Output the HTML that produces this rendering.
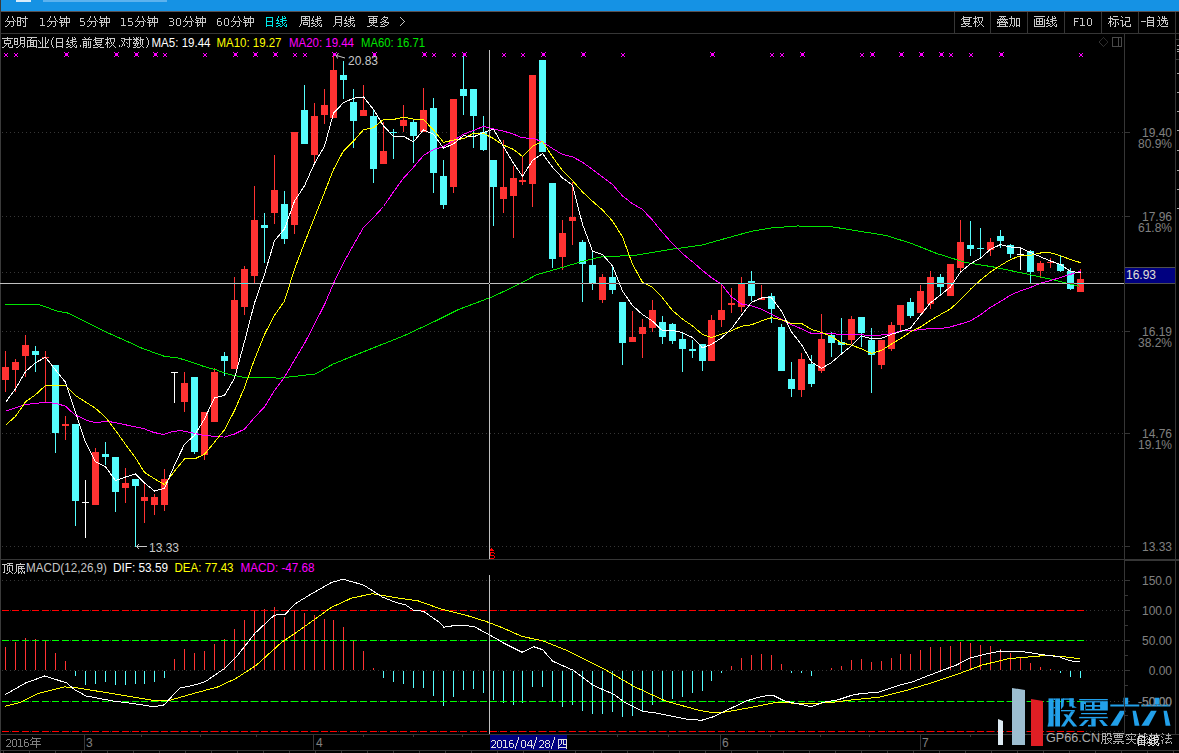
<!DOCTYPE html>
<html><head><meta charset="utf-8"><style>
html,body{margin:0;padding:0;background:#000;width:1179px;height:753px;overflow:hidden}
svg{position:absolute;left:0;top:0;display:block}
</style></head><body>
<svg width="1179" height="753" viewBox="0 0 1179 753">
<rect width="1179" height="753" fill="#000"/>
<g shape-rendering="crispEdges">
<rect x="0" y="0" width="1179" height="11" fill="#1592e4"/>
<rect x="16" y="0" width="15" height="2" fill="#d8ecfa"/>
<rect x="43" y="0" width="124" height="2" fill="#5cb2ee"/>
<rect x="0" y="11" width="1179" height="1" fill="#5a5050"/>
<rect x="0" y="0" width="1" height="753" fill="#3a3a3a"/>
<rect x="0" y="33" width="1179" height="1" fill="#363636"/>
<rect x="954" y="12" width="1" height="21" fill="#363636"/>
<rect x="990" y="12" width="1" height="21" fill="#363636"/>
<rect x="1027" y="12" width="1" height="21" fill="#363636"/>
<rect x="1064" y="12" width="1" height="21" fill="#363636"/>
<rect x="1101" y="12" width="1" height="21" fill="#363636"/>
<rect x="1138" y="12" width="1" height="21" fill="#363636"/>
<rect x="1175" y="12" width="1" height="21" fill="#363636"/>
<line x1="2" y1="132.5" x2="1124" y2="132.5" stroke="#363636" stroke-width="1" stroke-dasharray="1,3"/>
<line x1="2" y1="216.5" x2="1124" y2="216.5" stroke="#363636" stroke-width="1" stroke-dasharray="1,3"/>
<line x1="2" y1="272.5" x2="1124" y2="272.5" stroke="#363636" stroke-width="1" stroke-dasharray="1,3"/>
<line x1="2" y1="331.5" x2="1124" y2="331.5" stroke="#363636" stroke-width="1" stroke-dasharray="1,3"/>
<line x1="2" y1="433.5" x2="1124" y2="433.5" stroke="#363636" stroke-width="1" stroke-dasharray="1,3"/>
<line x1="2" y1="546.5" x2="1124" y2="546.5" stroke="#363636" stroke-width="1" stroke-dasharray="1,3"/>
<rect x="1124" y="34" width="1" height="701" fill="#363636"/>
<rect x="1175" y="34" width="1" height="701" fill="#363636"/>
<rect x="1125" y="132" width="5" height="1" fill="#363636"/>
<rect x="1125" y="216" width="5" height="1" fill="#363636"/>
<rect x="1125" y="272" width="5" height="1" fill="#363636"/>
<rect x="1125" y="331" width="5" height="1" fill="#363636"/>
<rect x="1125" y="433" width="5" height="1" fill="#363636"/>
<rect x="1125" y="546" width="5" height="1" fill="#363636"/>
<rect x="0" y="559" width="1124" height="1" fill="#363636"/>
<rect x="1124" y="559" width="55" height="2" fill="#363636"/>
<rect x="5" y="351" width="1" height="41" fill="#ff3232"/>
<rect x="2" y="367" width="7" height="13" fill="#ff3232"/>
<rect x="15" y="359" width="1" height="33" fill="#ff3232"/>
<rect x="12" y="362" width="7" height="8" fill="#ff3232"/>
<rect x="25" y="335" width="1" height="42" fill="#ff3232"/>
<rect x="22" y="345" width="7" height="11" fill="#ff3232"/>
<rect x="35" y="346" width="1" height="26" fill="#54fcfc"/>
<rect x="32" y="351" width="7" height="4" fill="#54fcfc"/>
<rect x="45" y="351" width="1" height="51" fill="#ff3232"/>
<rect x="42" y="357" width="7" height="1" fill="#ff3232"/>
<rect x="55" y="365" width="1" height="88" fill="#54fcfc"/>
<rect x="52" y="365" width="7" height="68" fill="#54fcfc"/>
<rect x="65" y="416" width="1" height="24" fill="#ff3232"/>
<rect x="62" y="424" width="7" height="2" fill="#ff3232"/>
<rect x="75" y="424" width="1" height="102" fill="#54fcfc"/>
<rect x="72" y="424" width="7" height="77" fill="#54fcfc"/>
<rect x="85" y="480" width="1" height="58" fill="#ffffff"/>
<rect x="82" y="502" width="7" height="1" fill="#ffffff"/>
<rect x="95" y="448" width="1" height="57" fill="#ff3232"/>
<rect x="92" y="452" width="7" height="53" fill="#ff3232"/>
<rect x="105" y="442" width="1" height="23" fill="#54fcfc"/>
<rect x="102" y="454" width="7" height="3" fill="#54fcfc"/>
<rect x="115" y="457" width="1" height="55" fill="#54fcfc"/>
<rect x="112" y="457" width="7" height="35" fill="#54fcfc"/>
<rect x="125" y="468" width="1" height="35" fill="#ff3232"/>
<rect x="122" y="483" width="7" height="5" fill="#ff3232"/>
<rect x="135" y="479" width="1" height="68" fill="#54fcfc"/>
<rect x="132" y="479" width="7" height="7" fill="#54fcfc"/>
<rect x="144" y="484" width="1" height="39" fill="#ff3232"/>
<rect x="141" y="497" width="7" height="4" fill="#ff3232"/>
<rect x="154" y="494" width="1" height="21" fill="#ff3232"/>
<rect x="151" y="497" width="7" height="8" fill="#ff3232"/>
<rect x="164" y="469" width="1" height="42" fill="#ff3232"/>
<rect x="161" y="479" width="7" height="26" fill="#ff3232"/>
<rect x="174" y="372" width="1" height="31" fill="#ffffff"/>
<rect x="171" y="372" width="7" height="1" fill="#ffffff"/>
<rect x="184" y="372" width="1" height="40" fill="#ff3232"/>
<rect x="181" y="383" width="7" height="19" fill="#ff3232"/>
<rect x="194" y="377" width="1" height="77" fill="#54fcfc"/>
<rect x="191" y="377" width="7" height="75" fill="#54fcfc"/>
<rect x="204" y="412" width="1" height="48" fill="#ff3232"/>
<rect x="201" y="412" width="7" height="43" fill="#ff3232"/>
<rect x="214" y="368" width="1" height="54" fill="#ff3232"/>
<rect x="211" y="372" width="7" height="50" fill="#ff3232"/>
<rect x="224" y="352" width="1" height="24" fill="#54fcfc"/>
<rect x="221" y="356" width="7" height="5" fill="#54fcfc"/>
<rect x="234" y="277" width="1" height="92" fill="#ff3232"/>
<rect x="231" y="300" width="7" height="69" fill="#ff3232"/>
<rect x="244" y="266" width="1" height="49" fill="#ff3232"/>
<rect x="241" y="269" width="7" height="38" fill="#ff3232"/>
<rect x="254" y="186" width="1" height="97" fill="#ff3232"/>
<rect x="251" y="220" width="7" height="56" fill="#ff3232"/>
<rect x="264" y="213" width="1" height="50" fill="#54fcfc"/>
<rect x="261" y="225" width="7" height="3" fill="#54fcfc"/>
<rect x="274" y="155" width="1" height="69" fill="#ff3232"/>
<rect x="271" y="190" width="7" height="23" fill="#ff3232"/>
<rect x="284" y="191" width="1" height="53" fill="#54fcfc"/>
<rect x="281" y="204" width="7" height="35" fill="#54fcfc"/>
<rect x="294" y="132" width="1" height="102" fill="#ff3232"/>
<rect x="291" y="132" width="7" height="93" fill="#ff3232"/>
<rect x="304" y="85" width="1" height="59" fill="#54fcfc"/>
<rect x="301" y="110" width="7" height="34" fill="#54fcfc"/>
<rect x="314" y="103" width="1" height="61" fill="#ff3232"/>
<rect x="311" y="116" width="7" height="39" fill="#ff3232"/>
<rect x="324" y="89" width="1" height="35" fill="#ff3232"/>
<rect x="321" y="105" width="7" height="10" fill="#ff3232"/>
<rect x="333" y="54" width="1" height="64" fill="#ff3232"/>
<rect x="330" y="70" width="7" height="48" fill="#ff3232"/>
<rect x="343" y="61" width="1" height="38" fill="#54fcfc"/>
<rect x="340" y="75" width="7" height="5" fill="#54fcfc"/>
<rect x="353" y="89" width="1" height="59" fill="#54fcfc"/>
<rect x="350" y="102" width="7" height="19" fill="#54fcfc"/>
<rect x="363" y="85" width="1" height="31" fill="#ff3232"/>
<rect x="360" y="110" width="7" height="6" fill="#ff3232"/>
<rect x="373" y="110" width="1" height="73" fill="#54fcfc"/>
<rect x="370" y="116" width="7" height="53" fill="#54fcfc"/>
<rect x="383" y="122" width="1" height="42" fill="#ff3232"/>
<rect x="380" y="151" width="7" height="13" fill="#ff3232"/>
<rect x="393" y="129" width="1" height="30" fill="#54fcfc"/>
<rect x="390" y="132" width="7" height="1" fill="#54fcfc"/>
<rect x="403" y="105" width="1" height="27" fill="#ff3232"/>
<rect x="400" y="120" width="7" height="6" fill="#ff3232"/>
<rect x="413" y="120" width="1" height="43" fill="#54fcfc"/>
<rect x="410" y="122" width="7" height="14" fill="#54fcfc"/>
<rect x="423" y="88" width="1" height="44" fill="#ff3232"/>
<rect x="420" y="110" width="7" height="22" fill="#ff3232"/>
<rect x="433" y="98" width="1" height="95" fill="#54fcfc"/>
<rect x="430" y="108" width="7" height="65" fill="#54fcfc"/>
<rect x="443" y="160" width="1" height="49" fill="#54fcfc"/>
<rect x="440" y="176" width="7" height="29" fill="#54fcfc"/>
<rect x="453" y="99" width="1" height="94" fill="#ff3232"/>
<rect x="450" y="99" width="7" height="88" fill="#ff3232"/>
<rect x="463" y="54" width="1" height="61" fill="#54fcfc"/>
<rect x="460" y="89" width="7" height="7" fill="#54fcfc"/>
<rect x="473" y="89" width="1" height="59" fill="#54fcfc"/>
<rect x="470" y="89" width="7" height="27" fill="#54fcfc"/>
<rect x="483" y="116" width="1" height="35" fill="#54fcfc"/>
<rect x="480" y="132" width="7" height="18" fill="#54fcfc"/>
<rect x="493" y="160" width="1" height="66" fill="#54fcfc"/>
<rect x="490" y="160" width="7" height="27" fill="#54fcfc"/>
<rect x="503" y="140" width="1" height="73" fill="#ff3232"/>
<rect x="500" y="187" width="7" height="12" fill="#ff3232"/>
<rect x="513" y="166" width="1" height="72" fill="#ff3232"/>
<rect x="510" y="178" width="7" height="18" fill="#ff3232"/>
<rect x="522" y="156" width="1" height="29" fill="#ff3232"/>
<rect x="519" y="180" width="7" height="2" fill="#ff3232"/>
<rect x="532" y="75" width="1" height="132" fill="#ff3232"/>
<rect x="529" y="75" width="7" height="109" fill="#ff3232"/>
<rect x="542" y="60" width="1" height="92" fill="#54fcfc"/>
<rect x="539" y="60" width="7" height="92" fill="#54fcfc"/>
<rect x="552" y="183" width="1" height="85" fill="#54fcfc"/>
<rect x="549" y="183" width="7" height="76" fill="#54fcfc"/>
<rect x="562" y="220" width="1" height="50" fill="#ff3232"/>
<rect x="559" y="233" width="7" height="24" fill="#ff3232"/>
<rect x="572" y="182" width="1" height="63" fill="#ff3232"/>
<rect x="569" y="217" width="7" height="4" fill="#ff3232"/>
<rect x="582" y="240" width="1" height="62" fill="#54fcfc"/>
<rect x="579" y="242" width="7" height="22" fill="#54fcfc"/>
<rect x="592" y="251" width="1" height="39" fill="#54fcfc"/>
<rect x="589" y="265" width="7" height="18" fill="#54fcfc"/>
<rect x="602" y="274" width="1" height="29" fill="#ff3232"/>
<rect x="599" y="277" width="7" height="23" fill="#ff3232"/>
<rect x="612" y="267" width="1" height="27" fill="#54fcfc"/>
<rect x="609" y="277" width="7" height="13" fill="#54fcfc"/>
<rect x="622" y="302" width="1" height="63" fill="#54fcfc"/>
<rect x="619" y="302" width="7" height="41" fill="#54fcfc"/>
<rect x="632" y="311" width="1" height="31" fill="#ff3232"/>
<rect x="629" y="337" width="7" height="5" fill="#ff3232"/>
<rect x="642" y="319" width="1" height="39" fill="#ff3232"/>
<rect x="639" y="327" width="7" height="7" fill="#ff3232"/>
<rect x="652" y="300" width="1" height="32" fill="#ff3232"/>
<rect x="649" y="310" width="7" height="18" fill="#ff3232"/>
<rect x="662" y="316" width="1" height="28" fill="#54fcfc"/>
<rect x="659" y="322" width="7" height="15" fill="#54fcfc"/>
<rect x="672" y="323" width="1" height="21" fill="#54fcfc"/>
<rect x="669" y="324" width="7" height="17" fill="#54fcfc"/>
<rect x="682" y="333" width="1" height="39" fill="#54fcfc"/>
<rect x="679" y="339" width="7" height="10" fill="#54fcfc"/>
<rect x="692" y="340" width="1" height="18" fill="#54fcfc"/>
<rect x="689" y="349" width="7" height="2" fill="#54fcfc"/>
<rect x="702" y="344" width="1" height="27" fill="#54fcfc"/>
<rect x="699" y="344" width="7" height="17" fill="#54fcfc"/>
<rect x="711" y="315" width="1" height="46" fill="#ff3232"/>
<rect x="708" y="320" width="7" height="41" fill="#ff3232"/>
<rect x="721" y="283" width="1" height="44" fill="#ff3232"/>
<rect x="718" y="310" width="7" height="10" fill="#ff3232"/>
<rect x="731" y="288" width="1" height="25" fill="#ff3232"/>
<rect x="728" y="303" width="7" height="2" fill="#ff3232"/>
<rect x="741" y="277" width="1" height="35" fill="#ff3232"/>
<rect x="738" y="283" width="7" height="24" fill="#ff3232"/>
<rect x="751" y="271" width="1" height="30" fill="#54fcfc"/>
<rect x="748" y="281" width="7" height="15" fill="#54fcfc"/>
<rect x="761" y="285" width="1" height="15" fill="#ff3232"/>
<rect x="758" y="298" width="7" height="2" fill="#ff3232"/>
<rect x="771" y="293" width="1" height="30" fill="#54fcfc"/>
<rect x="768" y="296" width="7" height="13" fill="#54fcfc"/>
<rect x="781" y="324" width="1" height="47" fill="#54fcfc"/>
<rect x="778" y="327" width="7" height="44" fill="#54fcfc"/>
<rect x="791" y="362" width="1" height="35" fill="#54fcfc"/>
<rect x="788" y="379" width="7" height="10" fill="#54fcfc"/>
<rect x="801" y="353" width="1" height="44" fill="#ff3232"/>
<rect x="798" y="359" width="7" height="31" fill="#ff3232"/>
<rect x="811" y="355" width="1" height="32" fill="#54fcfc"/>
<rect x="808" y="364" width="7" height="20" fill="#54fcfc"/>
<rect x="821" y="314" width="1" height="59" fill="#ff3232"/>
<rect x="818" y="339" width="7" height="32" fill="#ff3232"/>
<rect x="831" y="332" width="1" height="25" fill="#54fcfc"/>
<rect x="828" y="335" width="7" height="8" fill="#54fcfc"/>
<rect x="841" y="318" width="1" height="35" fill="#54fcfc"/>
<rect x="838" y="342" width="7" height="3" fill="#54fcfc"/>
<rect x="851" y="316" width="1" height="28" fill="#ff3232"/>
<rect x="848" y="319" width="7" height="21" fill="#ff3232"/>
<rect x="861" y="317" width="1" height="30" fill="#54fcfc"/>
<rect x="858" y="317" width="7" height="16" fill="#54fcfc"/>
<rect x="871" y="328" width="1" height="65" fill="#54fcfc"/>
<rect x="868" y="340" width="7" height="15" fill="#54fcfc"/>
<rect x="881" y="340" width="1" height="29" fill="#ff3232"/>
<rect x="878" y="340" width="7" height="25" fill="#ff3232"/>
<rect x="891" y="322" width="1" height="29" fill="#ff3232"/>
<rect x="888" y="325" width="7" height="24" fill="#ff3232"/>
<rect x="900" y="305" width="1" height="26" fill="#ff3232"/>
<rect x="897" y="305" width="7" height="20" fill="#ff3232"/>
<rect x="910" y="298" width="1" height="20" fill="#54fcfc"/>
<rect x="907" y="302" width="7" height="14" fill="#54fcfc"/>
<rect x="920" y="285" width="1" height="28" fill="#ff3232"/>
<rect x="917" y="291" width="7" height="22" fill="#ff3232"/>
<rect x="930" y="271" width="1" height="38" fill="#ff3232"/>
<rect x="927" y="277" width="7" height="27" fill="#ff3232"/>
<rect x="940" y="274" width="1" height="21" fill="#54fcfc"/>
<rect x="937" y="277" width="7" height="10" fill="#54fcfc"/>
<rect x="950" y="264" width="1" height="32" fill="#ff3232"/>
<rect x="947" y="264" width="7" height="32" fill="#ff3232"/>
<rect x="960" y="220" width="1" height="52" fill="#ff3232"/>
<rect x="957" y="242" width="7" height="26" fill="#ff3232"/>
<rect x="970" y="221" width="1" height="35" fill="#54fcfc"/>
<rect x="967" y="245" width="7" height="4" fill="#54fcfc"/>
<rect x="980" y="228" width="1" height="30" fill="#54fcfc"/>
<rect x="977" y="248" width="7" height="1" fill="#54fcfc"/>
<rect x="990" y="238" width="1" height="18" fill="#ff3232"/>
<rect x="987" y="242" width="7" height="8" fill="#ff3232"/>
<rect x="1000" y="230" width="1" height="18" fill="#54fcfc"/>
<rect x="997" y="236" width="7" height="5" fill="#54fcfc"/>
<rect x="1010" y="244" width="1" height="14" fill="#54fcfc"/>
<rect x="1007" y="245" width="7" height="9" fill="#54fcfc"/>
<rect x="1020" y="247" width="1" height="23" fill="#ffffff"/>
<rect x="1017" y="254" width="7" height="1" fill="#ffffff"/>
<rect x="1030" y="250" width="1" height="33" fill="#54fcfc"/>
<rect x="1027" y="251" width="7" height="21" fill="#54fcfc"/>
<rect x="1040" y="261" width="1" height="17" fill="#ff3232"/>
<rect x="1037" y="263" width="7" height="8" fill="#ff3232"/>
<rect x="1050" y="258" width="1" height="10" fill="#ff3232"/>
<rect x="1047" y="262" width="7" height="1" fill="#ff3232"/>
<rect x="1060" y="256" width="1" height="16" fill="#54fcfc"/>
<rect x="1057" y="264" width="7" height="7" fill="#54fcfc"/>
<rect x="1070" y="268" width="1" height="22" fill="#54fcfc"/>
<rect x="1067" y="271" width="7" height="18" fill="#54fcfc"/>
<rect x="1080" y="269" width="1" height="23" fill="#ff3232"/>
<rect x="1077" y="279" width="7" height="13" fill="#ff3232"/>
<polyline points="5.1,304.5 37.7,304.5 44.5,306.3 56.0,310.9 67.4,312.9 76.3,317.3 89.0,323.6 101.8,330.0 114.5,335.8 127.2,341.4 142.5,348.5 152.7,352.1 164.1,356.2 178.1,358.0 190.8,361.8 203.6,366.4 216.3,369.9 229.0,374.5 241.7,377.0 254.5,377.6 267.2,377.8 280.0,378.1 315.6,373.9 333.4,363.9 369.1,349.6 404.7,335.4 436.8,320.4 458.1,309.7 493.8,296.2 522.2,282.6 536.5,274.8 561.4,267.7 582.8,261.3 600.6,257.0 636.2,255.2 671.9,249.2 701.4,245.2 722.8,239.2 751.3,231.3 772.6,227.8 797.6,226.0 829.6,226.4 858.1,231.0 886.6,235.6 911.6,243.5 936.5,253.4 965.0,262.3 993.5,267.0 1022.0,273.0 1050.5,279.1 1079.0,286.2" fill="none" stroke="#00e600" stroke-width="1"/>
<polyline points="5.5,411.2 15.5,407.7 25.6,404.6 35.4,403.4 45.4,402.2 55.3,403.4 65.3,406.0 75.5,415.5 77.3,415.9 87.6,420.7 94.5,422.5 108.4,421.4 120.4,423.7 132.5,426.3 142.9,428.3 153.3,432.3 163.6,434.6 172.3,431.5 180.9,430.6 194.5,433.3 204.5,435.7 214.5,436.2 224.5,437.1 234.5,434.0 244.5,429.1 254.5,417.5 264.5,406.9 274.5,390.5 284.5,377.2 294.5,359.9 304.5,343.5 314.5,324.1 324.5,304.7 333.5,283.5 343.5,262.8 353.5,244.9 363.5,227.3 373.5,217.5 383.5,206.5 393.5,191.8 403.5,178.2 413.5,167.2 423.5,155.4 433.5,149.5 443.5,146.6 453.5,140.6 463.5,134.2 473.5,130.5 483.5,126.3 493.5,129.0 503.5,131.1 513.5,134.2 522.5,137.9 532.5,138.2 542.5,141.8 552.5,148.5 562.5,154.5 572.5,156.8 582.5,162.2 592.5,169.5 602.5,177.1 612.5,184.6 622.5,195.9 632.5,203.7 642.5,209.5 652.5,220.2 662.5,232.4 672.5,243.7 682.5,253.7 692.5,261.8 702.5,270.5 711.5,277.7 721.5,284.4 731.5,297.0 741.5,304.0 751.5,305.9 761.5,309.3 771.5,314.1 781.5,319.5 791.5,324.7 801.5,328.8 811.5,333.5 821.5,333.3 831.5,333.6 841.5,334.5 851.5,335.0 861.5,334.8 871.5,335.5 881.5,335.0 891.5,333.7 900.5,330.9 910.5,330.7 920.5,329.7 930.5,328.4 940.5,328.6 950.5,326.9 960.5,324.0 970.5,320.9 980.5,314.7 990.5,307.4 1000.5,301.5 1010.5,295.1 1020.5,290.8 1030.5,287.4 1040.5,283.3 1050.5,280.5 1060.5,277.5 1070.5,274.3 1080.5,271.3" fill="none" stroke="#ff00ff" stroke-width="1"/>
<polyline points="5.5,425.3 15.5,416.4 25.6,401.7 35.4,394.8 45.4,385.6 55.3,386.0 65.3,385.3 75.5,395.6 95.5,408.3 105.5,417.3 115.5,430.3 125.5,444.4 135.5,457.9 144.5,472.4 154.5,478.8 164.5,484.5 174.5,471.1 184.5,458.9 194.5,458.9 204.5,454.3 214.5,442.1 224.5,429.8 234.5,410.7 244.5,387.5 254.5,359.4 264.5,334.4 274.5,315.4 284.5,301.0 294.5,269.1 304.5,242.8 314.5,217.5 324.5,192.4 333.5,169.5 343.5,150.8 353.5,141.1 363.5,129.7 373.5,127.7 383.5,119.4 393.5,119.5 403.5,117.1 413.5,119.1 423.5,119.6 433.5,130.0 443.5,142.4 453.5,140.1 463.5,138.7 473.5,133.4 483.5,133.3 493.5,138.6 503.5,145.2 513.5,149.4 522.5,156.5 532.5,146.4 542.5,141.3 552.5,156.9 562.5,170.6 572.5,180.7 582.5,191.9 592.5,201.2 602.5,210.0 612.5,221.0 622.5,236.9 632.5,264.2 642.5,282.3 652.5,287.4 662.5,297.8 672.5,310.5 682.5,319.1 692.5,325.9 702.5,334.4 711.5,337.5 721.5,334.2 731.5,330.7 741.5,326.2 751.5,324.8 761.5,320.9 771.5,317.7 781.5,319.8 791.5,323.5 801.5,323.3 811.5,329.5 821.5,332.4 831.5,336.5 841.5,342.8 851.5,345.2 861.5,348.8 871.5,353.5 881.5,350.4 891.5,344.1 900.5,338.6 910.5,331.9 920.5,327.0 930.5,320.4 940.5,314.5 950.5,308.9 960.5,299.7 970.5,289.2 980.5,280.1 990.5,271.9 1000.5,265.5 1010.5,259.5 1020.5,255.8 1030.5,255.3 1040.5,253.0 1050.5,252.8 1060.5,255.7 1070.5,259.6 1080.5,262.6" fill="none" stroke="#ffff00" stroke-width="1"/>
<polyline points="5.5,402.5 15.5,388.7 25.6,371.5 35.4,362.8 45.5,357.2 55.5,369.9 65.5,382.2 75.5,412.7 85.5,442.1 95.5,461.9 105.5,466.8 115.5,480.6 125.5,477.0 135.5,473.9 144.5,482.9 154.5,491.0 164.5,488.4 174.5,465.2 184.5,444.2 194.5,435.4 204.5,418.9 214.5,397.8 224.5,395.5 234.5,378.2 244.5,341.6 254.5,302.9 264.5,274.4 274.5,240.7 284.5,228.9 294.5,201.1 304.5,185.8 314.5,163.3 324.5,146.2 333.5,113.1 343.5,102.7 353.5,98.2 363.5,97.0 373.5,109.5 383.5,125.8 393.5,136.6 403.5,136.4 413.5,141.7 423.5,129.9 433.5,134.2 443.5,148.2 453.5,143.9 463.5,135.7 473.5,136.9 483.5,132.5 493.5,129.1 503.5,146.6 513.5,163.3 522.5,176.3 532.5,160.5 542.5,153.6 552.5,167.2 562.5,177.9 572.5,185.2 582.5,224.3 592.5,251.0 602.5,254.5 612.5,265.9 622.5,291.1 632.5,305.6 642.5,314.5 652.5,321.2 662.5,330.7 672.5,330.3 682.5,332.7 692.5,337.5 702.5,347.8 711.5,344.3 721.5,338.0 731.5,328.8 741.5,315.1 751.5,302.3 761.5,298.0 771.5,297.8 781.5,311.0 791.5,331.9 801.5,344.6 811.5,362.0 821.5,368.3 831.5,362.6 841.5,353.9 851.5,345.8 861.5,335.8 871.5,338.9 881.5,338.3 891.5,334.3 900.5,331.5 910.5,328.1 920.5,315.3 930.5,302.7 940.5,295.1 950.5,286.9 960.5,272.1 970.5,263.7 980.5,258.1 990.5,249.2 1000.5,244.6 1010.5,247.0 1020.5,248.0 1030.5,252.5 1040.5,256.8 1050.5,261.0 1060.5,264.4 1070.5,271.4 1080.5,272.8" fill="none" stroke="#ffffff" stroke-width="1"/>
<rect x="5" y="54" width="2" height="2" fill="#ff00ff"/>
<rect x="4" y="53" width="1" height="1" fill="#ff00ff"/>
<rect x="7" y="53" width="1" height="1" fill="#ff00ff"/>
<rect x="4" y="56" width="1" height="1" fill="#ff00ff"/>
<rect x="7" y="56" width="1" height="1" fill="#ff00ff"/>
<rect x="15" y="54" width="2" height="2" fill="#ff00ff"/>
<rect x="14" y="53" width="1" height="1" fill="#ff00ff"/>
<rect x="17" y="53" width="1" height="1" fill="#ff00ff"/>
<rect x="14" y="56" width="1" height="1" fill="#ff00ff"/>
<rect x="17" y="56" width="1" height="1" fill="#ff00ff"/>
<rect x="65" y="53" width="3" height="3" fill="#ff00ff"/>
<rect x="64" y="52" width="1" height="1" fill="#ff00ff"/>
<rect x="68" y="52" width="1" height="1" fill="#ff00ff"/>
<rect x="64" y="56" width="1" height="1" fill="#ff00ff"/>
<rect x="68" y="56" width="1" height="1" fill="#ff00ff"/>
<rect x="115" y="53" width="3" height="3" fill="#ff00ff"/>
<rect x="114" y="52" width="1" height="1" fill="#ff00ff"/>
<rect x="118" y="52" width="1" height="1" fill="#ff00ff"/>
<rect x="114" y="56" width="1" height="1" fill="#ff00ff"/>
<rect x="118" y="56" width="1" height="1" fill="#ff00ff"/>
<rect x="135" y="53" width="3" height="3" fill="#ff00ff"/>
<rect x="134" y="52" width="1" height="1" fill="#ff00ff"/>
<rect x="138" y="52" width="1" height="1" fill="#ff00ff"/>
<rect x="134" y="56" width="1" height="1" fill="#ff00ff"/>
<rect x="138" y="56" width="1" height="1" fill="#ff00ff"/>
<rect x="154" y="53" width="3" height="3" fill="#ff00ff"/>
<rect x="153" y="52" width="1" height="1" fill="#ff00ff"/>
<rect x="157" y="52" width="1" height="1" fill="#ff00ff"/>
<rect x="153" y="56" width="1" height="1" fill="#ff00ff"/>
<rect x="157" y="56" width="1" height="1" fill="#ff00ff"/>
<rect x="164" y="54" width="2" height="2" fill="#ff00ff"/>
<rect x="163" y="53" width="1" height="1" fill="#ff00ff"/>
<rect x="166" y="53" width="1" height="1" fill="#ff00ff"/>
<rect x="163" y="56" width="1" height="1" fill="#ff00ff"/>
<rect x="166" y="56" width="1" height="1" fill="#ff00ff"/>
<rect x="204" y="54" width="2" height="2" fill="#ff00ff"/>
<rect x="203" y="53" width="1" height="1" fill="#ff00ff"/>
<rect x="206" y="53" width="1" height="1" fill="#ff00ff"/>
<rect x="203" y="56" width="1" height="1" fill="#ff00ff"/>
<rect x="206" y="56" width="1" height="1" fill="#ff00ff"/>
<rect x="234" y="53" width="3" height="3" fill="#ff00ff"/>
<rect x="233" y="52" width="1" height="1" fill="#ff00ff"/>
<rect x="237" y="52" width="1" height="1" fill="#ff00ff"/>
<rect x="233" y="56" width="1" height="1" fill="#ff00ff"/>
<rect x="237" y="56" width="1" height="1" fill="#ff00ff"/>
<rect x="254" y="53" width="3" height="3" fill="#ff00ff"/>
<rect x="253" y="52" width="1" height="1" fill="#ff00ff"/>
<rect x="257" y="52" width="1" height="1" fill="#ff00ff"/>
<rect x="253" y="56" width="1" height="1" fill="#ff00ff"/>
<rect x="257" y="56" width="1" height="1" fill="#ff00ff"/>
<rect x="274" y="53" width="3" height="3" fill="#ff00ff"/>
<rect x="273" y="52" width="1" height="1" fill="#ff00ff"/>
<rect x="277" y="52" width="1" height="1" fill="#ff00ff"/>
<rect x="273" y="56" width="1" height="1" fill="#ff00ff"/>
<rect x="277" y="56" width="1" height="1" fill="#ff00ff"/>
<rect x="294" y="54" width="2" height="2" fill="#ff00ff"/>
<rect x="293" y="53" width="1" height="1" fill="#ff00ff"/>
<rect x="296" y="53" width="1" height="1" fill="#ff00ff"/>
<rect x="293" y="56" width="1" height="1" fill="#ff00ff"/>
<rect x="296" y="56" width="1" height="1" fill="#ff00ff"/>
<rect x="304" y="54" width="2" height="2" fill="#ff00ff"/>
<rect x="303" y="53" width="1" height="1" fill="#ff00ff"/>
<rect x="306" y="53" width="1" height="1" fill="#ff00ff"/>
<rect x="303" y="56" width="1" height="1" fill="#ff00ff"/>
<rect x="306" y="56" width="1" height="1" fill="#ff00ff"/>
<rect x="333" y="53" width="3" height="3" fill="#ff00ff"/>
<rect x="332" y="52" width="1" height="1" fill="#ff00ff"/>
<rect x="336" y="52" width="1" height="1" fill="#ff00ff"/>
<rect x="332" y="56" width="1" height="1" fill="#ff00ff"/>
<rect x="336" y="56" width="1" height="1" fill="#ff00ff"/>
<rect x="373" y="53" width="3" height="3" fill="#ff00ff"/>
<rect x="372" y="52" width="1" height="1" fill="#ff00ff"/>
<rect x="376" y="52" width="1" height="1" fill="#ff00ff"/>
<rect x="372" y="56" width="1" height="1" fill="#ff00ff"/>
<rect x="376" y="56" width="1" height="1" fill="#ff00ff"/>
<rect x="423" y="53" width="3" height="3" fill="#ff00ff"/>
<rect x="422" y="52" width="1" height="1" fill="#ff00ff"/>
<rect x="426" y="52" width="1" height="1" fill="#ff00ff"/>
<rect x="422" y="56" width="1" height="1" fill="#ff00ff"/>
<rect x="426" y="56" width="1" height="1" fill="#ff00ff"/>
<rect x="433" y="54" width="2" height="2" fill="#ff00ff"/>
<rect x="432" y="53" width="1" height="1" fill="#ff00ff"/>
<rect x="435" y="53" width="1" height="1" fill="#ff00ff"/>
<rect x="432" y="56" width="1" height="1" fill="#ff00ff"/>
<rect x="435" y="56" width="1" height="1" fill="#ff00ff"/>
<rect x="453" y="54" width="2" height="2" fill="#ff00ff"/>
<rect x="452" y="53" width="1" height="1" fill="#ff00ff"/>
<rect x="455" y="53" width="1" height="1" fill="#ff00ff"/>
<rect x="452" y="56" width="1" height="1" fill="#ff00ff"/>
<rect x="455" y="56" width="1" height="1" fill="#ff00ff"/>
<rect x="463" y="53" width="3" height="3" fill="#ff00ff"/>
<rect x="462" y="52" width="1" height="1" fill="#ff00ff"/>
<rect x="466" y="52" width="1" height="1" fill="#ff00ff"/>
<rect x="462" y="56" width="1" height="1" fill="#ff00ff"/>
<rect x="466" y="56" width="1" height="1" fill="#ff00ff"/>
<rect x="503" y="54" width="2" height="2" fill="#ff00ff"/>
<rect x="502" y="53" width="1" height="1" fill="#ff00ff"/>
<rect x="505" y="53" width="1" height="1" fill="#ff00ff"/>
<rect x="502" y="56" width="1" height="1" fill="#ff00ff"/>
<rect x="505" y="56" width="1" height="1" fill="#ff00ff"/>
<rect x="522" y="54" width="2" height="2" fill="#ff00ff"/>
<rect x="521" y="53" width="1" height="1" fill="#ff00ff"/>
<rect x="524" y="53" width="1" height="1" fill="#ff00ff"/>
<rect x="521" y="56" width="1" height="1" fill="#ff00ff"/>
<rect x="524" y="56" width="1" height="1" fill="#ff00ff"/>
<rect x="542" y="53" width="3" height="3" fill="#ff00ff"/>
<rect x="541" y="52" width="1" height="1" fill="#ff00ff"/>
<rect x="545" y="52" width="1" height="1" fill="#ff00ff"/>
<rect x="541" y="56" width="1" height="1" fill="#ff00ff"/>
<rect x="545" y="56" width="1" height="1" fill="#ff00ff"/>
<rect x="582" y="53" width="3" height="3" fill="#ff00ff"/>
<rect x="581" y="52" width="1" height="1" fill="#ff00ff"/>
<rect x="585" y="52" width="1" height="1" fill="#ff00ff"/>
<rect x="581" y="56" width="1" height="1" fill="#ff00ff"/>
<rect x="585" y="56" width="1" height="1" fill="#ff00ff"/>
<rect x="622" y="54" width="2" height="2" fill="#ff00ff"/>
<rect x="621" y="53" width="1" height="1" fill="#ff00ff"/>
<rect x="624" y="53" width="1" height="1" fill="#ff00ff"/>
<rect x="621" y="56" width="1" height="1" fill="#ff00ff"/>
<rect x="624" y="56" width="1" height="1" fill="#ff00ff"/>
<rect x="711" y="53" width="3" height="3" fill="#ff00ff"/>
<rect x="710" y="52" width="1" height="1" fill="#ff00ff"/>
<rect x="714" y="52" width="1" height="1" fill="#ff00ff"/>
<rect x="710" y="56" width="1" height="1" fill="#ff00ff"/>
<rect x="714" y="56" width="1" height="1" fill="#ff00ff"/>
<rect x="771" y="54" width="2" height="2" fill="#ff00ff"/>
<rect x="770" y="53" width="1" height="1" fill="#ff00ff"/>
<rect x="773" y="53" width="1" height="1" fill="#ff00ff"/>
<rect x="770" y="56" width="1" height="1" fill="#ff00ff"/>
<rect x="773" y="56" width="1" height="1" fill="#ff00ff"/>
<rect x="781" y="54" width="2" height="2" fill="#ff00ff"/>
<rect x="780" y="53" width="1" height="1" fill="#ff00ff"/>
<rect x="783" y="53" width="1" height="1" fill="#ff00ff"/>
<rect x="780" y="56" width="1" height="1" fill="#ff00ff"/>
<rect x="783" y="56" width="1" height="1" fill="#ff00ff"/>
<rect x="801" y="53" width="3" height="3" fill="#ff00ff"/>
<rect x="800" y="52" width="1" height="1" fill="#ff00ff"/>
<rect x="804" y="52" width="1" height="1" fill="#ff00ff"/>
<rect x="800" y="56" width="1" height="1" fill="#ff00ff"/>
<rect x="804" y="56" width="1" height="1" fill="#ff00ff"/>
<rect x="861" y="54" width="2" height="2" fill="#ff00ff"/>
<rect x="860" y="53" width="1" height="1" fill="#ff00ff"/>
<rect x="863" y="53" width="1" height="1" fill="#ff00ff"/>
<rect x="860" y="56" width="1" height="1" fill="#ff00ff"/>
<rect x="863" y="56" width="1" height="1" fill="#ff00ff"/>
<rect x="871" y="53" width="3" height="3" fill="#ff00ff"/>
<rect x="870" y="52" width="1" height="1" fill="#ff00ff"/>
<rect x="874" y="52" width="1" height="1" fill="#ff00ff"/>
<rect x="870" y="56" width="1" height="1" fill="#ff00ff"/>
<rect x="874" y="56" width="1" height="1" fill="#ff00ff"/>
<rect x="900" y="53" width="3" height="3" fill="#ff00ff"/>
<rect x="899" y="52" width="1" height="1" fill="#ff00ff"/>
<rect x="903" y="52" width="1" height="1" fill="#ff00ff"/>
<rect x="899" y="56" width="1" height="1" fill="#ff00ff"/>
<rect x="903" y="56" width="1" height="1" fill="#ff00ff"/>
<rect x="920" y="53" width="3" height="3" fill="#ff00ff"/>
<rect x="919" y="52" width="1" height="1" fill="#ff00ff"/>
<rect x="923" y="52" width="1" height="1" fill="#ff00ff"/>
<rect x="919" y="56" width="1" height="1" fill="#ff00ff"/>
<rect x="923" y="56" width="1" height="1" fill="#ff00ff"/>
<rect x="940" y="53" width="3" height="3" fill="#ff00ff"/>
<rect x="939" y="52" width="1" height="1" fill="#ff00ff"/>
<rect x="943" y="52" width="1" height="1" fill="#ff00ff"/>
<rect x="939" y="56" width="1" height="1" fill="#ff00ff"/>
<rect x="943" y="56" width="1" height="1" fill="#ff00ff"/>
<rect x="950" y="54" width="2" height="2" fill="#ff00ff"/>
<rect x="949" y="53" width="1" height="1" fill="#ff00ff"/>
<rect x="952" y="53" width="1" height="1" fill="#ff00ff"/>
<rect x="949" y="56" width="1" height="1" fill="#ff00ff"/>
<rect x="952" y="56" width="1" height="1" fill="#ff00ff"/>
<rect x="970" y="54" width="2" height="2" fill="#ff00ff"/>
<rect x="969" y="53" width="1" height="1" fill="#ff00ff"/>
<rect x="972" y="53" width="1" height="1" fill="#ff00ff"/>
<rect x="969" y="56" width="1" height="1" fill="#ff00ff"/>
<rect x="972" y="56" width="1" height="1" fill="#ff00ff"/>
<rect x="1000" y="53" width="3" height="3" fill="#ff00ff"/>
<rect x="999" y="52" width="1" height="1" fill="#ff00ff"/>
<rect x="1003" y="52" width="1" height="1" fill="#ff00ff"/>
<rect x="999" y="56" width="1" height="1" fill="#ff00ff"/>
<rect x="1003" y="56" width="1" height="1" fill="#ff00ff"/>
<rect x="1080" y="54" width="2" height="2" fill="#ff00ff"/>
<rect x="1079" y="53" width="1" height="1" fill="#ff00ff"/>
<rect x="1082" y="53" width="1" height="1" fill="#ff00ff"/>
<rect x="1079" y="56" width="1" height="1" fill="#ff00ff"/>
<rect x="1082" y="56" width="1" height="1" fill="#ff00ff"/>
<line x1="2" y1="580.5" x2="1124" y2="580.5" stroke="#363636" stroke-width="1" stroke-dasharray="1,3"/>
<line x1="2" y1="610.5" x2="1124" y2="610.5" stroke="#363636" stroke-width="1" stroke-dasharray="1,3"/>
<line x1="2" y1="640.5" x2="1124" y2="640.5" stroke="#363636" stroke-width="1" stroke-dasharray="1,3"/>
<line x1="2" y1="670.5" x2="1124" y2="670.5" stroke="#363636" stroke-width="1" stroke-dasharray="1,3"/>
<line x1="2" y1="701.5" x2="1124" y2="701.5" stroke="#363636" stroke-width="1" stroke-dasharray="1,3"/>
<line x1="2" y1="731.5" x2="1124" y2="731.5" stroke="#363636" stroke-width="1" stroke-dasharray="1,3"/>
<rect x="1125" y="580" width="5" height="1" fill="#363636"/>
<rect x="1125" y="610" width="5" height="1" fill="#363636"/>
<rect x="1125" y="640" width="5" height="1" fill="#363636"/>
<rect x="1125" y="670" width="5" height="1" fill="#363636"/>
<rect x="1125" y="701" width="5" height="1" fill="#363636"/>
<rect x="1125" y="595" width="3" height="1" fill="#363636"/>
<rect x="1125" y="625" width="3" height="1" fill="#363636"/>
<rect x="1125" y="655" width="3" height="1" fill="#363636"/>
<rect x="1125" y="685" width="3" height="1" fill="#363636"/>
<rect x="1125" y="715" width="3" height="1" fill="#363636"/>
<rect x="5" y="647" width="1" height="23" fill="#ff3232"/>
<rect x="15" y="642" width="1" height="28" fill="#ff3232"/>
<rect x="25" y="638" width="1" height="32" fill="#ff3232"/>
<rect x="35" y="639" width="1" height="31" fill="#ff3232"/>
<rect x="45" y="641" width="1" height="29" fill="#ff3232"/>
<rect x="55" y="653" width="1" height="17" fill="#ff3232"/>
<rect x="65" y="661" width="1" height="9" fill="#ff3232"/>
<rect x="75" y="671" width="1" height="5" fill="#54fcfc"/>
<rect x="85" y="671" width="1" height="14" fill="#54fcfc"/>
<rect x="95" y="671" width="1" height="13" fill="#54fcfc"/>
<rect x="105" y="671" width="1" height="11" fill="#54fcfc"/>
<rect x="115" y="671" width="1" height="14" fill="#54fcfc"/>
<rect x="125" y="671" width="1" height="14" fill="#54fcfc"/>
<rect x="135" y="671" width="1" height="13" fill="#54fcfc"/>
<rect x="144" y="671" width="1" height="13" fill="#54fcfc"/>
<rect x="154" y="671" width="1" height="11" fill="#54fcfc"/>
<rect x="164" y="671" width="1" height="7" fill="#54fcfc"/>
<rect x="174" y="659" width="1" height="11" fill="#ff3232"/>
<rect x="184" y="649" width="1" height="21" fill="#ff3232"/>
<rect x="194" y="653" width="1" height="17" fill="#ff3232"/>
<rect x="204" y="651" width="1" height="19" fill="#ff3232"/>
<rect x="214" y="644" width="1" height="26" fill="#ff3232"/>
<rect x="224" y="639" width="1" height="31" fill="#ff3232"/>
<rect x="234" y="629" width="1" height="41" fill="#ff3232"/>
<rect x="244" y="620" width="1" height="50" fill="#ff3232"/>
<rect x="254" y="610" width="1" height="60" fill="#ff3232"/>
<rect x="264" y="609" width="1" height="61" fill="#ff3232"/>
<rect x="274" y="607" width="1" height="63" fill="#ff3232"/>
<rect x="284" y="617" width="1" height="53" fill="#ff3232"/>
<rect x="294" y="610" width="1" height="60" fill="#ff3232"/>
<rect x="304" y="613" width="1" height="57" fill="#ff3232"/>
<rect x="314" y="615" width="1" height="55" fill="#ff3232"/>
<rect x="324" y="619" width="1" height="51" fill="#ff3232"/>
<rect x="333" y="620" width="1" height="50" fill="#ff3232"/>
<rect x="343" y="627" width="1" height="43" fill="#ff3232"/>
<rect x="353" y="640" width="1" height="30" fill="#ff3232"/>
<rect x="363" y="651" width="1" height="19" fill="#ff3232"/>
<rect x="373" y="668" width="1" height="2" fill="#ff3232"/>
<rect x="383" y="671" width="1" height="7" fill="#54fcfc"/>
<rect x="393" y="671" width="1" height="11" fill="#54fcfc"/>
<rect x="403" y="671" width="1" height="13" fill="#54fcfc"/>
<rect x="413" y="671" width="1" height="17" fill="#54fcfc"/>
<rect x="423" y="671" width="1" height="17" fill="#54fcfc"/>
<rect x="433" y="671" width="1" height="25" fill="#54fcfc"/>
<rect x="443" y="671" width="1" height="35" fill="#54fcfc"/>
<rect x="453" y="671" width="1" height="26" fill="#54fcfc"/>
<rect x="463" y="671" width="1" height="19" fill="#54fcfc"/>
<rect x="473" y="671" width="1" height="18" fill="#54fcfc"/>
<rect x="483" y="671" width="1" height="22" fill="#54fcfc"/>
<rect x="493" y="671" width="1" height="29" fill="#54fcfc"/>
<rect x="503" y="671" width="1" height="32" fill="#54fcfc"/>
<rect x="513" y="671" width="1" height="34" fill="#54fcfc"/>
<rect x="522" y="671" width="1" height="32" fill="#54fcfc"/>
<rect x="532" y="671" width="1" height="16" fill="#54fcfc"/>
<rect x="542" y="671" width="1" height="16" fill="#54fcfc"/>
<rect x="552" y="671" width="1" height="31" fill="#54fcfc"/>
<rect x="562" y="671" width="1" height="36" fill="#54fcfc"/>
<rect x="572" y="671" width="1" height="34" fill="#54fcfc"/>
<rect x="582" y="671" width="1" height="40" fill="#54fcfc"/>
<rect x="592" y="671" width="1" height="43" fill="#54fcfc"/>
<rect x="602" y="671" width="1" height="43" fill="#54fcfc"/>
<rect x="612" y="671" width="1" height="41" fill="#54fcfc"/>
<rect x="622" y="671" width="1" height="46" fill="#54fcfc"/>
<rect x="632" y="671" width="1" height="45" fill="#54fcfc"/>
<rect x="642" y="671" width="1" height="41" fill="#54fcfc"/>
<rect x="652" y="671" width="1" height="34" fill="#54fcfc"/>
<rect x="662" y="671" width="1" height="30" fill="#54fcfc"/>
<rect x="672" y="671" width="1" height="28" fill="#54fcfc"/>
<rect x="682" y="671" width="1" height="26" fill="#54fcfc"/>
<rect x="692" y="671" width="1" height="22" fill="#54fcfc"/>
<rect x="702" y="671" width="1" height="20" fill="#54fcfc"/>
<rect x="711" y="671" width="1" height="10" fill="#54fcfc"/>
<rect x="721" y="671" width="1" height="2" fill="#54fcfc"/>
<rect x="731" y="666" width="1" height="4" fill="#ff3232"/>
<rect x="741" y="658" width="1" height="12" fill="#ff3232"/>
<rect x="751" y="655" width="1" height="15" fill="#ff3232"/>
<rect x="761" y="654" width="1" height="16" fill="#ff3232"/>
<rect x="771" y="655" width="1" height="15" fill="#ff3232"/>
<rect x="781" y="664" width="1" height="6" fill="#ff3232"/>
<rect x="791" y="671" width="1" height="2" fill="#54fcfc"/>
<rect x="801" y="671" width="1" height="2" fill="#54fcfc"/>
<rect x="811" y="671" width="1" height="5" fill="#54fcfc"/>
<rect x="831" y="668" width="1" height="2" fill="#ff3232"/>
<rect x="841" y="666" width="1" height="4" fill="#ff3232"/>
<rect x="851" y="660" width="1" height="10" fill="#ff3232"/>
<rect x="861" y="659" width="1" height="11" fill="#ff3232"/>
<rect x="871" y="662" width="1" height="8" fill="#ff3232"/>
<rect x="881" y="661" width="1" height="9" fill="#ff3232"/>
<rect x="891" y="658" width="1" height="12" fill="#ff3232"/>
<rect x="900" y="654" width="1" height="16" fill="#ff3232"/>
<rect x="910" y="654" width="1" height="16" fill="#ff3232"/>
<rect x="920" y="650" width="1" height="20" fill="#ff3232"/>
<rect x="930" y="647" width="1" height="23" fill="#ff3232"/>
<rect x="940" y="647" width="1" height="23" fill="#ff3232"/>
<rect x="950" y="646" width="1" height="24" fill="#ff3232"/>
<rect x="960" y="642" width="1" height="28" fill="#ff3232"/>
<rect x="970" y="643" width="1" height="27" fill="#ff3232"/>
<rect x="980" y="645" width="1" height="25" fill="#ff3232"/>
<rect x="990" y="646" width="1" height="24" fill="#ff3232"/>
<rect x="1000" y="649" width="1" height="21" fill="#ff3232"/>
<rect x="1010" y="653" width="1" height="17" fill="#ff3232"/>
<rect x="1020" y="658" width="1" height="12" fill="#ff3232"/>
<rect x="1030" y="663" width="1" height="7" fill="#ff3232"/>
<rect x="1040" y="667" width="1" height="3" fill="#ff3232"/>
<rect x="1050" y="669" width="1" height="1" fill="#ff3232"/>
<rect x="1060" y="671" width="1" height="2" fill="#54fcfc"/>
<rect x="1070" y="671" width="1" height="6" fill="#54fcfc"/>
<rect x="1080" y="671" width="1" height="7" fill="#54fcfc"/>
<path d="M2,610.5h7M12,610.5h7M22,610.5h7M32,610.5h7M42,610.5h7M52,610.5h7M62,610.5h7M72,610.5h7M82,610.5h7M92,610.5h7M102,610.5h7M112,610.5h7M122,610.5h7M132,610.5h7M141,610.5h7M151,610.5h7M161,610.5h7M171,610.5h7M181,610.5h7M191,610.5h7M201,610.5h7M211,610.5h7M221,610.5h7M231,610.5h7M241,610.5h7M251,610.5h7M261,610.5h7M271,610.5h7M281,610.5h7M291,610.5h7M301,610.5h7M311,610.5h7M321,610.5h7M330,610.5h7M340,610.5h7M350,610.5h7M360,610.5h7M370,610.5h7M380,610.5h7M390,610.5h7M400,610.5h7M410,610.5h7M420,610.5h7M430,610.5h7M440,610.5h7M450,610.5h7M460,610.5h7M470,610.5h7M480,610.5h7M490,610.5h7M500,610.5h7M510,610.5h7M519,610.5h7M529,610.5h7M539,610.5h7M549,610.5h7M559,610.5h7M569,610.5h7M579,610.5h7M589,610.5h7M599,610.5h7M609,610.5h7M619,610.5h7M629,610.5h7M639,610.5h7M649,610.5h7M659,610.5h7M669,610.5h7M679,610.5h7M689,610.5h7M699,610.5h7M708,610.5h7M718,610.5h7M728,610.5h7M738,610.5h7M748,610.5h7M758,610.5h7M768,610.5h7M778,610.5h7M788,610.5h7M798,610.5h7M808,610.5h7M818,610.5h7M828,610.5h7M838,610.5h7M848,610.5h7M858,610.5h7M868,610.5h7M878,610.5h7M888,610.5h7M897,610.5h7M907,610.5h7M917,610.5h7M927,610.5h7M937,610.5h7M947,610.5h7M957,610.5h7M967,610.5h7M977,610.5h7M987,610.5h7M997,610.5h7M1007,610.5h7M1017,610.5h7M1027,610.5h7M1037,610.5h7M1047,610.5h7M1057,610.5h7M1067,610.5h7M1077,610.5h7" stroke="#ff0000" stroke-width="1" fill="none"/>
<path d="M2,731.5h7M12,731.5h7M22,731.5h7M32,731.5h7M42,731.5h7M52,731.5h7M62,731.5h7M72,731.5h7M82,731.5h7M92,731.5h7M102,731.5h7M112,731.5h7M122,731.5h7M132,731.5h7M141,731.5h7M151,731.5h7M161,731.5h7M171,731.5h7M181,731.5h7M191,731.5h7M201,731.5h7M211,731.5h7M221,731.5h7M231,731.5h7M241,731.5h7M251,731.5h7M261,731.5h7M271,731.5h7M281,731.5h7M291,731.5h7M301,731.5h7M311,731.5h7M321,731.5h7M330,731.5h7M340,731.5h7M350,731.5h7M360,731.5h7M370,731.5h7M380,731.5h7M390,731.5h7M400,731.5h7M410,731.5h7M420,731.5h7M430,731.5h7M440,731.5h7M450,731.5h7M460,731.5h7M470,731.5h7M480,731.5h7M490,731.5h7M500,731.5h7M510,731.5h7M519,731.5h7M529,731.5h7M539,731.5h7M549,731.5h7M559,731.5h7M569,731.5h7M579,731.5h7M589,731.5h7M599,731.5h7M609,731.5h7M619,731.5h7M629,731.5h7M639,731.5h7M649,731.5h7M659,731.5h7M669,731.5h7M679,731.5h7M689,731.5h7M699,731.5h7M708,731.5h7M718,731.5h7M728,731.5h7M738,731.5h7M748,731.5h7M758,731.5h7M768,731.5h7M778,731.5h7M788,731.5h7M798,731.5h7M808,731.5h7M818,731.5h7M828,731.5h7M838,731.5h7M848,731.5h7M858,731.5h7M868,731.5h7M878,731.5h7M888,731.5h7M897,731.5h7M907,731.5h7M917,731.5h7M927,731.5h7M937,731.5h7M947,731.5h7M957,731.5h7M967,731.5h7M977,731.5h7M987,731.5h7M997,731.5h7M1007,731.5h7M1017,731.5h7M1027,731.5h7M1037,731.5h7M1047,731.5h7M1057,731.5h7M1067,731.5h7M1077,731.5h7" stroke="#ff0000" stroke-width="1" fill="none"/>
<path d="M2,640.5h7M12,640.5h7M22,640.5h7M32,640.5h7M42,640.5h7M52,640.5h7M62,640.5h7M72,640.5h7M82,640.5h7M92,640.5h7M102,640.5h7M112,640.5h7M122,640.5h7M132,640.5h7M141,640.5h7M151,640.5h7M161,640.5h7M171,640.5h7M181,640.5h7M191,640.5h7M201,640.5h7M211,640.5h7M221,640.5h7M231,640.5h7M241,640.5h7M251,640.5h7M261,640.5h7M271,640.5h7M281,640.5h7M291,640.5h7M301,640.5h7M311,640.5h7M321,640.5h7M330,640.5h7M340,640.5h7M350,640.5h7M360,640.5h7M370,640.5h7M380,640.5h7M390,640.5h7M400,640.5h7M410,640.5h7M420,640.5h7M430,640.5h7M440,640.5h7M450,640.5h7M460,640.5h7M470,640.5h7M480,640.5h7M490,640.5h7M500,640.5h7M510,640.5h7M519,640.5h7M529,640.5h7M539,640.5h7M549,640.5h7M559,640.5h7M569,640.5h7M579,640.5h7M589,640.5h7M599,640.5h7M609,640.5h7M619,640.5h7M629,640.5h7M639,640.5h7M649,640.5h7M659,640.5h7M669,640.5h7M679,640.5h7M689,640.5h7M699,640.5h7M708,640.5h7M718,640.5h7M728,640.5h7M738,640.5h7M748,640.5h7M758,640.5h7M768,640.5h7M778,640.5h7M788,640.5h7M798,640.5h7M808,640.5h7M818,640.5h7M828,640.5h7M838,640.5h7M848,640.5h7M858,640.5h7M868,640.5h7M878,640.5h7M888,640.5h7M897,640.5h7M907,640.5h7M917,640.5h7M927,640.5h7M937,640.5h7M947,640.5h7M957,640.5h7M967,640.5h7M977,640.5h7M987,640.5h7M997,640.5h7M1007,640.5h7M1017,640.5h7M1027,640.5h7M1037,640.5h7M1047,640.5h7M1057,640.5h7M1067,640.5h7M1077,640.5h7" stroke="#00ff00" stroke-width="1" fill="none"/>
<path d="M2,701.5h7M12,701.5h7M22,701.5h7M32,701.5h7M42,701.5h7M52,701.5h7M62,701.5h7M72,701.5h7M82,701.5h7M92,701.5h7M102,701.5h7M112,701.5h7M122,701.5h7M132,701.5h7M141,701.5h7M151,701.5h7M161,701.5h7M171,701.5h7M181,701.5h7M191,701.5h7M201,701.5h7M211,701.5h7M221,701.5h7M231,701.5h7M241,701.5h7M251,701.5h7M261,701.5h7M271,701.5h7M281,701.5h7M291,701.5h7M301,701.5h7M311,701.5h7M321,701.5h7M330,701.5h7M340,701.5h7M350,701.5h7M360,701.5h7M370,701.5h7M380,701.5h7M390,701.5h7M400,701.5h7M410,701.5h7M420,701.5h7M430,701.5h7M440,701.5h7M450,701.5h7M460,701.5h7M470,701.5h7M480,701.5h7M490,701.5h7M500,701.5h7M510,701.5h7M519,701.5h7M529,701.5h7M539,701.5h7M549,701.5h7M559,701.5h7M569,701.5h7M579,701.5h7M589,701.5h7M599,701.5h7M609,701.5h7M619,701.5h7M629,701.5h7M639,701.5h7M649,701.5h7M659,701.5h7M669,701.5h7M679,701.5h7M689,701.5h7M699,701.5h7M708,701.5h7M718,701.5h7M728,701.5h7M738,701.5h7M748,701.5h7M758,701.5h7M768,701.5h7M778,701.5h7M788,701.5h7M798,701.5h7M808,701.5h7M818,701.5h7M828,701.5h7M838,701.5h7M848,701.5h7M858,701.5h7M868,701.5h7M878,701.5h7M888,701.5h7M897,701.5h7M907,701.5h7M917,701.5h7M927,701.5h7M937,701.5h7M947,701.5h7M957,701.5h7M967,701.5h7M977,701.5h7M987,701.5h7M997,701.5h7M1007,701.5h7M1017,701.5h7M1027,701.5h7M1037,701.5h7M1047,701.5h7M1057,701.5h7M1067,701.5h7M1077,701.5h7" stroke="#00ff00" stroke-width="1" fill="none"/>
<polyline points="5.1,706.2 20.5,702.3 38.5,693.3 64.1,686.9 74.4,687.4 102.6,692.0 153.8,700.5 169.2,700.5 192.3,693.8 217.9,686.9 235.9,678.5 256.4,665.1 282.0,642.0 295.4,633.1 313.3,620.3 331.3,607.4 351.8,598.0 372.3,593.8 392.8,597.2 418.5,601.0 440.0,608.7 465.6,615.1 486.2,621.5 503.1,628.0 522.0,636.4 542.6,640.8 568.2,651.0 604.1,669.0 634.9,686.9 665.6,701.0 691.3,708.2 700.0,710.5 712.8,712.6 725.6,712.0 751.3,707.4 776.9,702.3 802.6,703.6 828.2,702.8 853.8,699.7 879.5,697.2 905.1,690.8 930.8,683.1 956.4,674.6 982.0,665.1 1008.2,658.7 1023.6,657.4 1044.1,655.6 1059.5,656.2 1080.0,658.7" fill="none" stroke="#ffff00" stroke-width="1"/>
<polyline points="5.1,694.6 25.6,683.0 44.9,675.9 59.0,680.5 66.7,683.0 74.4,689.5 85.9,695.9 112.8,701.0 133.3,703.6 153.8,706.7 164.1,704.9 179.5,688.2 194.9,684.9 205.1,681.8 225.6,667.7 235.9,657.4 255.1,633.1 274.4,615.1 285.1,614.4 295.4,603.6 313.3,592.8 331.3,582.6 342.8,579.2 356.9,583.1 364.6,585.6 382.6,597.2 395.4,602.3 405.6,604.9 413.3,610.0 423.6,611.3 440.0,622.8 443.8,627.2 455.4,625.4 473.3,626.2 488.7,634.4 504.1,643.3 522.0,652.3 533.6,646.7 542.6,649.7 552.8,661.3 573.3,670.3 593.8,685.6 614.4,694.6 624.6,702.3 642.6,711.3 657.9,713.3 686.2,719.0 701.5,720.3 712.8,716.9 725.6,710.8 746.2,701.0 759.0,697.2 769.2,695.1 774.4,695.9 784.6,701.0 797.4,703.6 811.5,706.7 823.1,702.3 838.5,699.7 853.8,694.6 864.1,693.3 879.5,692.0 900.0,684.9 912.8,681.8 925.6,676.7 941.0,670.8 956.4,665.1 969.2,658.2 982.0,654.9 1000.5,651.0 1023.6,651.8 1044.1,654.9 1059.5,656.9 1069.7,660.8 1080.0,661.8" fill="none" stroke="#ffffff" stroke-width="1"/>
<rect x="0" y="283" width="489" height="1" fill="#c0c0c0"/><rect x="490" y="283" width="634" height="1" fill="#c0c0c0"/><rect x="489" y="50" width="1" height="233" fill="#c0c0c0"/><rect x="489" y="284" width="1" height="275" fill="#c0c0c0"/><rect x="489" y="575" width="1" height="159" fill="#c0c0c0"/>
<rect x="234" y="283" width="1" height="1" fill="#3ff2f2"/>
<rect x="241" y="283" width="7" height="1" fill="#3ff2f2"/>
<rect x="582" y="283" width="1" height="1" fill="#943c3c"/>
<rect x="592" y="283" width="1" height="1" fill="#943c3c"/>
<rect x="599" y="283" width="7" height="1" fill="#3ff2f2"/>
<rect x="609" y="283" width="7" height="1" fill="#943c3c"/>
<rect x="721" y="283" width="1" height="1" fill="#3ff2f2"/>
<rect x="738" y="283" width="7" height="1" fill="#3ff2f2"/>
<rect x="748" y="283" width="7" height="1" fill="#943c3c"/>
<rect x="927" y="283" width="7" height="1" fill="#3ff2f2"/>
<rect x="937" y="283" width="7" height="1" fill="#943c3c"/>
<rect x="947" y="283" width="7" height="1" fill="#3ff2f2"/>
<rect x="1067" y="283" width="7" height="1" fill="#943c3c"/>
<rect x="1077" y="283" width="7" height="1" fill="#3ff2f2"/>
<rect x="0" y="734" width="1179" height="1" fill="#363636"/>
<rect x="0" y="750" width="1179" height="1" fill="#363636"/>
<rect x="84" y="735" width="1" height="15" fill="#363636"/>
<rect x="313" y="735" width="1" height="15" fill="#363636"/>
<rect x="720" y="735" width="1" height="15" fill="#363636"/>
<rect x="920" y="735" width="1" height="15" fill="#363636"/>
<rect x="141" y="735" width="1" height="2" fill="#363636"/>
<rect x="200" y="735" width="1" height="2" fill="#363636"/>
<rect x="256" y="735" width="1" height="2" fill="#363636"/>
<rect x="363" y="735" width="1" height="2" fill="#363636"/>
<rect x="413" y="735" width="1" height="2" fill="#363636"/>
<rect x="462" y="735" width="1" height="2" fill="#363636"/>
<rect x="617" y="735" width="1" height="2" fill="#363636"/>
<rect x="668" y="735" width="1" height="2" fill="#363636"/>
<rect x="770" y="735" width="1" height="2" fill="#363636"/>
<rect x="820" y="735" width="1" height="2" fill="#363636"/>
<rect x="869" y="735" width="1" height="2" fill="#363636"/>
<rect x="970" y="735" width="1" height="2" fill="#363636"/>
<rect x="1020" y="735" width="1" height="2" fill="#363636"/>
<rect x="1070" y="735" width="1" height="2" fill="#363636"/>
<rect x="3" y="751" width="1" height="2" fill="#363636"/>
<rect x="29" y="751" width="1" height="2" fill="#363636"/>
<rect x="55" y="751" width="1" height="2" fill="#363636"/>
<rect x="81" y="751" width="1" height="2" fill="#363636"/>
<rect x="107" y="751" width="1" height="2" fill="#363636"/>
<rect x="133" y="751" width="1" height="2" fill="#363636"/>
<rect x="159" y="751" width="1" height="2" fill="#363636"/>
<rect x="185" y="751" width="1" height="2" fill="#363636"/>
<rect x="211" y="751" width="1" height="2" fill="#363636"/>
<rect x="237" y="751" width="1" height="2" fill="#363636"/>
<rect x="263" y="751" width="1" height="2" fill="#363636"/>
<rect x="289" y="751" width="1" height="2" fill="#363636"/>
<rect x="315" y="751" width="1" height="2" fill="#363636"/>
<rect x="341" y="751" width="1" height="2" fill="#363636"/>
<rect x="367" y="751" width="1" height="2" fill="#363636"/>
<rect x="393" y="751" width="1" height="2" fill="#363636"/>
<rect x="419" y="751" width="1" height="2" fill="#363636"/>
<rect x="445" y="751" width="1" height="2" fill="#363636"/>
<rect x="471" y="751" width="1" height="2" fill="#363636"/>
<rect x="497" y="751" width="1" height="2" fill="#363636"/>
<rect x="523" y="751" width="1" height="2" fill="#363636"/>
<rect x="549" y="751" width="1" height="2" fill="#363636"/>
<rect x="575" y="751" width="1" height="2" fill="#363636"/>
<rect x="601" y="751" width="1" height="2" fill="#363636"/>
<rect x="627" y="751" width="1" height="2" fill="#363636"/>
<rect x="653" y="751" width="1" height="2" fill="#363636"/>
<rect x="679" y="751" width="1" height="2" fill="#363636"/>
<rect x="705" y="751" width="1" height="2" fill="#363636"/>
<rect x="731" y="751" width="1" height="2" fill="#363636"/>
<rect x="757" y="751" width="1" height="2" fill="#363636"/>
<rect x="783" y="751" width="1" height="2" fill="#363636"/>
<rect x="809" y="751" width="1" height="2" fill="#363636"/>
<rect x="835" y="751" width="1" height="2" fill="#363636"/>
<rect x="861" y="751" width="1" height="2" fill="#363636"/>
<rect x="887" y="751" width="1" height="2" fill="#363636"/>
<rect x="913" y="751" width="1" height="2" fill="#363636"/>
<rect x="939" y="751" width="1" height="2" fill="#363636"/>
<rect x="965" y="751" width="1" height="2" fill="#363636"/>
<rect x="991" y="751" width="1" height="2" fill="#363636"/>
<rect x="1017" y="751" width="1" height="2" fill="#363636"/>
<rect x="1043" y="751" width="1" height="2" fill="#363636"/>
<rect x="1069" y="751" width="1" height="2" fill="#363636"/>
<rect x="1095" y="751" width="1" height="2" fill="#363636"/>
<rect x="1121" y="751" width="1" height="2" fill="#363636"/>
<rect x="1147" y="751" width="1" height="2" fill="#363636"/>
<rect x="1173" y="751" width="1" height="2" fill="#363636"/>
<rect x="1175" y="39" width="4" height="1" fill="#363636"/>
<rect x="1175" y="59" width="4" height="1" fill="#363636"/>
<rect x="1177" y="45" width="2" height="1" fill="#aaa"/>
<rect x="1177" y="49" width="2" height="1" fill="#aaa"/>
<rect x="1177" y="51" width="2" height="1" fill="#aaa"/>
<rect x="1177" y="73" width="2" height="1" fill="#aaa"/>
<rect x="1177" y="92" width="2" height="1" fill="#aaa"/>
<rect x="1177" y="111" width="2" height="1" fill="#aaa"/>
<rect x="1177" y="130" width="2" height="1" fill="#aaa"/>
<rect x="1177" y="150" width="2" height="1" fill="#aaa"/>
<rect x="1177" y="170" width="2" height="1" fill="#aaa"/>
<rect x="1177" y="189" width="2" height="1" fill="#aaa"/>
<rect x="1177" y="208" width="2" height="1" fill="#aaa"/>
</g>
<path d="M8 16h1v1h-1zM12 16h1v1h-1zM25 16h1v1h-1zM8 17h1v1h-1zM12 17h1v1h-1zM17 17h4v1h-4zM25 17h1v1h-1zM7 18h1v1h-1zM13 18h1v1h-1zM17 18h1v1h-1zM20 18h8v1h-8zM7 19h1v1h-1zM13 19h1v1h-1zM17 19h1v1h-1zM20 19h1v1h-1zM25 19h1v1h-1zM6 20h1v1h-1zM14 20h1v1h-1zM17 20h1v1h-1zM20 20h1v1h-1zM22 20h1v1h-1zM25 20h1v1h-1zM5 21h1v1h-1zM7 21h7v1h-7zM15 21h1v1h-1zM17 21h4v1h-4zM23 21h1v1h-1zM25 21h1v1h-1zM9 22h1v1h-1zM13 22h1v1h-1zM17 22h1v1h-1zM20 22h1v1h-1zM23 22h1v1h-1zM25 22h1v1h-1zM9 23h1v1h-1zM13 23h1v1h-1zM17 23h1v1h-1zM20 23h1v1h-1zM25 23h1v1h-1zM8 24h1v1h-1zM13 24h1v1h-1zM17 24h1v1h-1zM20 24h1v1h-1zM25 24h1v1h-1zM7 25h1v1h-1zM13 25h1v1h-1zM17 25h4v1h-4zM25 25h1v1h-1zM5 26h2v1h-2zM11 26h2v1h-2zM23 26h3v1h-3z" fill="#c8c8c8" shape-rendering="crispEdges"/>
<path d="M50 16h1v1h-1zM54 16h1v1h-1zM60 16h1v1h-1zM66 16h1v1h-1zM50 17h1v1h-1zM54 17h1v1h-1zM60 17h1v1h-1zM66 17h1v1h-1zM40 18h3v1h-3zM49 18h1v1h-1zM55 18h1v1h-1zM60 18h10v1h-10zM42 19h1v1h-1zM49 19h1v1h-1zM55 19h1v1h-1zM59 19h1v1h-1zM64 19h1v1h-1zM66 19h1v1h-1zM69 19h1v1h-1zM42 20h1v1h-1zM48 20h1v1h-1zM56 20h1v1h-1zM60 20h3v1h-3zM64 20h1v1h-1zM66 20h1v1h-1zM69 20h1v1h-1zM42 21h1v1h-1zM47 21h1v1h-1zM49 21h7v1h-7zM57 21h1v1h-1zM61 21h1v1h-1zM64 21h1v1h-1zM66 21h1v1h-1zM69 21h1v1h-1zM42 22h1v1h-1zM51 22h1v1h-1zM55 22h1v1h-1zM59 22h11v1h-11zM42 23h1v1h-1zM51 23h1v1h-1zM55 23h1v1h-1zM61 23h1v1h-1zM66 23h1v1h-1zM42 24h1v1h-1zM50 24h1v1h-1zM55 24h1v1h-1zM61 24h1v1h-1zM63 24h1v1h-1zM66 24h1v1h-1zM40 25h5v1h-5zM49 25h1v1h-1zM55 25h1v1h-1zM61 25h2v1h-2zM66 25h1v1h-1zM47 26h2v1h-2zM53 26h2v1h-2zM61 26h1v1h-1zM66 26h1v1h-1z" fill="#c8c8c8" shape-rendering="crispEdges"/>
<path d="M90 16h1v1h-1zM94 16h1v1h-1zM100 16h1v1h-1zM106 16h1v1h-1zM90 17h1v1h-1zM94 17h1v1h-1zM100 17h1v1h-1zM106 17h1v1h-1zM80 18h4v1h-4zM89 18h1v1h-1zM95 18h1v1h-1zM100 18h10v1h-10zM80 19h1v1h-1zM89 19h1v1h-1zM95 19h1v1h-1zM99 19h1v1h-1zM104 19h1v1h-1zM106 19h1v1h-1zM109 19h1v1h-1zM80 20h1v1h-1zM88 20h1v1h-1zM96 20h1v1h-1zM100 20h3v1h-3zM104 20h1v1h-1zM106 20h1v1h-1zM109 20h1v1h-1zM80 21h4v1h-4zM87 21h1v1h-1zM89 21h7v1h-7zM97 21h1v1h-1zM101 21h1v1h-1zM104 21h1v1h-1zM106 21h1v1h-1zM109 21h1v1h-1zM84 22h1v1h-1zM91 22h1v1h-1zM95 22h1v1h-1zM99 22h11v1h-11zM84 23h1v1h-1zM91 23h1v1h-1zM95 23h1v1h-1zM101 23h1v1h-1zM106 23h1v1h-1zM84 24h1v1h-1zM90 24h1v1h-1zM95 24h1v1h-1zM101 24h1v1h-1zM103 24h1v1h-1zM106 24h1v1h-1zM80 25h4v1h-4zM89 25h1v1h-1zM95 25h1v1h-1zM101 25h2v1h-2zM106 25h1v1h-1zM87 26h2v1h-2zM93 26h2v1h-2zM101 26h1v1h-1zM106 26h1v1h-1z" fill="#c8c8c8" shape-rendering="crispEdges"/>
<path d="M138 16h1v1h-1zM142 16h1v1h-1zM148 16h1v1h-1zM154 16h1v1h-1zM138 17h1v1h-1zM142 17h1v1h-1zM148 17h1v1h-1zM154 17h1v1h-1zM121 18h3v1h-3zM128 18h4v1h-4zM137 18h1v1h-1zM143 18h1v1h-1zM148 18h10v1h-10zM123 19h1v1h-1zM128 19h1v1h-1zM137 19h1v1h-1zM143 19h1v1h-1zM147 19h1v1h-1zM152 19h1v1h-1zM154 19h1v1h-1zM157 19h1v1h-1zM123 20h1v1h-1zM128 20h1v1h-1zM136 20h1v1h-1zM144 20h1v1h-1zM148 20h3v1h-3zM152 20h1v1h-1zM154 20h1v1h-1zM157 20h1v1h-1zM123 21h1v1h-1zM128 21h4v1h-4zM135 21h1v1h-1zM137 21h7v1h-7zM145 21h1v1h-1zM149 21h1v1h-1zM152 21h1v1h-1zM154 21h1v1h-1zM157 21h1v1h-1zM123 22h1v1h-1zM132 22h1v1h-1zM139 22h1v1h-1zM143 22h1v1h-1zM147 22h11v1h-11zM123 23h1v1h-1zM132 23h1v1h-1zM139 23h1v1h-1zM143 23h1v1h-1zM149 23h1v1h-1zM154 23h1v1h-1zM123 24h1v1h-1zM132 24h1v1h-1zM138 24h1v1h-1zM143 24h1v1h-1zM149 24h1v1h-1zM151 24h1v1h-1zM154 24h1v1h-1zM121 25h5v1h-5zM128 25h4v1h-4zM137 25h1v1h-1zM143 25h1v1h-1zM149 25h2v1h-2zM154 25h1v1h-1zM135 26h2v1h-2zM141 26h2v1h-2zM149 26h1v1h-1zM154 26h1v1h-1z" fill="#c8c8c8" shape-rendering="crispEdges"/>
<path d="M186 16h1v1h-1zM190 16h1v1h-1zM196 16h1v1h-1zM202 16h1v1h-1zM186 17h1v1h-1zM190 17h1v1h-1zM196 17h1v1h-1zM202 17h1v1h-1zM169 18h4v1h-4zM177 18h3v1h-3zM185 18h1v1h-1zM191 18h1v1h-1zM196 18h10v1h-10zM173 19h1v1h-1zM176 19h1v1h-1zM180 19h1v1h-1zM185 19h1v1h-1zM191 19h1v1h-1zM195 19h1v1h-1zM200 19h1v1h-1zM202 19h1v1h-1zM205 19h1v1h-1zM173 20h1v1h-1zM176 20h1v1h-1zM180 20h1v1h-1zM184 20h1v1h-1zM192 20h1v1h-1zM196 20h3v1h-3zM200 20h1v1h-1zM202 20h1v1h-1zM205 20h1v1h-1zM170 21h3v1h-3zM176 21h1v1h-1zM180 21h1v1h-1zM183 21h1v1h-1zM185 21h7v1h-7zM193 21h1v1h-1zM197 21h1v1h-1zM200 21h1v1h-1zM202 21h1v1h-1zM205 21h1v1h-1zM173 22h1v1h-1zM176 22h1v1h-1zM180 22h1v1h-1zM187 22h1v1h-1zM191 22h1v1h-1zM195 22h11v1h-11zM173 23h1v1h-1zM176 23h1v1h-1zM180 23h1v1h-1zM187 23h1v1h-1zM191 23h1v1h-1zM197 23h1v1h-1zM202 23h1v1h-1zM173 24h1v1h-1zM176 24h1v1h-1zM180 24h1v1h-1zM186 24h1v1h-1zM191 24h1v1h-1zM197 24h1v1h-1zM199 24h1v1h-1zM202 24h1v1h-1zM169 25h4v1h-4zM177 25h3v1h-3zM185 25h1v1h-1zM191 25h1v1h-1zM197 25h2v1h-2zM202 25h1v1h-1zM183 26h2v1h-2zM189 26h2v1h-2zM197 26h1v1h-1zM202 26h1v1h-1z" fill="#c8c8c8" shape-rendering="crispEdges"/>
<path d="M234 16h1v1h-1zM238 16h1v1h-1zM244 16h1v1h-1zM250 16h1v1h-1zM234 17h1v1h-1zM238 17h1v1h-1zM244 17h1v1h-1zM250 17h1v1h-1zM218 18h3v1h-3zM225 18h3v1h-3zM233 18h1v1h-1zM239 18h1v1h-1zM244 18h10v1h-10zM217 19h1v1h-1zM224 19h1v1h-1zM228 19h1v1h-1zM233 19h1v1h-1zM239 19h1v1h-1zM243 19h1v1h-1zM248 19h1v1h-1zM250 19h1v1h-1zM253 19h1v1h-1zM217 20h1v1h-1zM224 20h1v1h-1zM228 20h1v1h-1zM232 20h1v1h-1zM240 20h1v1h-1zM244 20h3v1h-3zM248 20h1v1h-1zM250 20h1v1h-1zM253 20h1v1h-1zM217 21h4v1h-4zM224 21h1v1h-1zM228 21h1v1h-1zM231 21h1v1h-1zM233 21h7v1h-7zM241 21h1v1h-1zM245 21h1v1h-1zM248 21h1v1h-1zM250 21h1v1h-1zM253 21h1v1h-1zM217 22h1v1h-1zM221 22h1v1h-1zM224 22h1v1h-1zM228 22h1v1h-1zM235 22h1v1h-1zM239 22h1v1h-1zM243 22h11v1h-11zM217 23h1v1h-1zM221 23h1v1h-1zM224 23h1v1h-1zM228 23h1v1h-1zM235 23h1v1h-1zM239 23h1v1h-1zM245 23h1v1h-1zM250 23h1v1h-1zM217 24h1v1h-1zM221 24h1v1h-1zM224 24h1v1h-1zM228 24h1v1h-1zM234 24h1v1h-1zM239 24h1v1h-1zM245 24h1v1h-1zM247 24h1v1h-1zM250 24h1v1h-1zM218 25h3v1h-3zM225 25h3v1h-3zM233 25h1v1h-1zM239 25h1v1h-1zM245 25h2v1h-2zM250 25h1v1h-1zM231 26h2v1h-2zM237 26h2v1h-2zM245 26h1v1h-1zM250 26h1v1h-1z" fill="#c8c8c8" shape-rendering="crispEdges"/>
<path d="M278 16h1v1h-1zM282 16h1v1h-1zM284 16h1v1h-1zM266 17h7v1h-7zM278 17h1v1h-1zM282 17h1v1h-1zM285 17h1v1h-1zM266 18h1v1h-1zM272 18h1v1h-1zM277 18h1v1h-1zM282 18h4v1h-4zM266 19h1v1h-1zM272 19h1v1h-1zM277 19h1v1h-1zM280 19h3v1h-3zM266 20h1v1h-1zM272 20h1v1h-1zM276 20h3v1h-3zM282 20h5v1h-5zM266 21h7v1h-7zM278 21h1v1h-1zM280 21h3v1h-3zM266 22h1v1h-1zM272 22h1v1h-1zM277 22h1v1h-1zM282 22h1v1h-1zM285 22h1v1h-1zM266 23h1v1h-1zM272 23h1v1h-1zM276 23h4v1h-4zM282 23h1v1h-1zM284 23h1v1h-1zM266 24h1v1h-1zM272 24h1v1h-1zM280 24h1v1h-1zM283 24h1v1h-1zM286 24h1v1h-1zM266 25h7v1h-7zM278 25h2v1h-2zM282 25h1v1h-1zM284 25h1v1h-1zM286 25h1v1h-1zM266 26h1v1h-1zM272 26h1v1h-1zM276 26h2v1h-2zM280 26h2v1h-2zM285 26h2v1h-2z" fill="#00e8e8" shape-rendering="crispEdges"/>
<path d="M301 16h9v1h-9zM313 16h1v1h-1zM317 16h1v1h-1zM319 16h1v1h-1zM301 17h1v1h-1zM305 17h1v1h-1zM309 17h1v1h-1zM313 17h1v1h-1zM317 17h1v1h-1zM320 17h1v1h-1zM301 18h1v1h-1zM303 18h5v1h-5zM309 18h1v1h-1zM312 18h1v1h-1zM317 18h4v1h-4zM301 19h1v1h-1zM305 19h1v1h-1zM309 19h1v1h-1zM312 19h1v1h-1zM315 19h3v1h-3zM301 20h9v1h-9zM311 20h3v1h-3zM317 20h5v1h-5zM301 21h1v1h-1zM309 21h1v1h-1zM313 21h1v1h-1zM315 21h3v1h-3zM301 22h1v1h-1zM303 22h5v1h-5zM309 22h1v1h-1zM312 22h1v1h-1zM317 22h1v1h-1zM320 22h1v1h-1zM301 23h1v1h-1zM303 23h1v1h-1zM307 23h1v1h-1zM309 23h1v1h-1zM311 23h4v1h-4zM317 23h1v1h-1zM319 23h1v1h-1zM300 24h1v1h-1zM303 24h5v1h-5zM309 24h1v1h-1zM315 24h1v1h-1zM318 24h1v1h-1zM321 24h1v1h-1zM300 25h1v1h-1zM309 25h1v1h-1zM313 25h2v1h-2zM317 25h1v1h-1zM319 25h1v1h-1zM321 25h1v1h-1zM299 26h1v1h-1zM308 26h2v1h-2zM311 26h2v1h-2zM315 26h2v1h-2zM320 26h2v1h-2z" fill="#c8c8c8" shape-rendering="crispEdges"/>
<path d="M335 16h7v1h-7zM346 16h1v1h-1zM350 16h1v1h-1zM352 16h1v1h-1zM335 17h1v1h-1zM341 17h1v1h-1zM346 17h1v1h-1zM350 17h1v1h-1zM353 17h1v1h-1zM335 18h1v1h-1zM341 18h1v1h-1zM345 18h1v1h-1zM350 18h4v1h-4zM335 19h7v1h-7zM345 19h1v1h-1zM348 19h3v1h-3zM335 20h1v1h-1zM341 20h1v1h-1zM344 20h3v1h-3zM350 20h5v1h-5zM335 21h1v1h-1zM341 21h1v1h-1zM346 21h1v1h-1zM348 21h3v1h-3zM335 22h7v1h-7zM345 22h1v1h-1zM350 22h1v1h-1zM353 22h1v1h-1zM335 23h1v1h-1zM341 23h1v1h-1zM344 23h4v1h-4zM350 23h1v1h-1zM352 23h1v1h-1zM335 24h1v1h-1zM341 24h1v1h-1zM348 24h1v1h-1zM351 24h1v1h-1zM354 24h1v1h-1zM334 25h1v1h-1zM339 25h1v1h-1zM341 25h1v1h-1zM346 25h2v1h-2zM350 25h1v1h-1zM352 25h1v1h-1zM354 25h1v1h-1zM333 26h1v1h-1zM340 26h1v1h-1zM344 26h2v1h-2zM348 26h2v1h-2zM353 26h2v1h-2z" fill="#c8c8c8" shape-rendering="crispEdges"/>
<path d="M368 16h10v1h-10zM384 16h1v1h-1zM373 17h1v1h-1zM383 17h5v1h-5zM369 18h8v1h-8zM382 18h1v1h-1zM387 18h1v1h-1zM369 19h1v1h-1zM373 19h1v1h-1zM376 19h1v1h-1zM381 19h1v1h-1zM383 19h1v1h-1zM386 19h1v1h-1zM369 20h8v1h-8zM384 20h2v1h-2zM369 21h1v1h-1zM373 21h1v1h-1zM376 21h1v1h-1zM382 21h2v1h-2zM385 21h1v1h-1zM369 22h8v1h-8zM380 22h2v1h-2zM384 22h5v1h-5zM371 23h1v1h-1zM373 23h1v1h-1zM383 23h1v1h-1zM388 23h1v1h-1zM372 24h1v1h-1zM381 24h2v1h-2zM384 24h1v1h-1zM387 24h1v1h-1zM370 25h2v1h-2zM373 25h2v1h-2zM385 25h2v1h-2zM367 26h3v1h-3zM375 26h3v1h-3zM380 26h5v1h-5z" fill="#c8c8c8" shape-rendering="crispEdges"/>
<path d="M400 17h1v1h-1zM401 18h1v1h-1zM402 19h1v1h-1zM403 20h1v1h-1zM404 21h1v1h-1zM403 22h1v1h-1zM402 23h1v1h-1zM401 24h1v1h-1zM400 25h1v1h-1z" fill="#c8c8c8" shape-rendering="crispEdges"/>
<path d="M963 16h1v1h-1zM975 16h1v1h-1zM963 17h9v1h-9zM975 17h1v1h-1zM977 17h6v1h-6zM962 18h2v1h-2zM969 18h1v1h-1zM973 18h4v1h-4zM978 18h1v1h-1zM982 18h1v1h-1zM961 19h1v1h-1zM963 19h7v1h-7zM975 19h1v1h-1zM978 19h1v1h-1zM982 19h1v1h-1zM963 20h1v1h-1zM969 20h1v1h-1zM975 20h1v1h-1zM978 20h1v1h-1zM982 20h1v1h-1zM963 21h7v1h-7zM974 21h3v1h-3zM979 21h1v1h-1zM981 21h1v1h-1zM964 22h1v1h-1zM974 22h2v1h-2zM977 22h1v1h-1zM979 22h1v1h-1zM981 22h1v1h-1zM963 23h7v1h-7zM973 23h1v1h-1zM975 23h1v1h-1zM980 23h1v1h-1zM961 24h2v1h-2zM965 24h1v1h-1zM968 24h1v1h-1zM975 24h1v1h-1zM979 24h1v1h-1zM981 24h1v1h-1zM966 25h2v1h-2zM975 25h1v1h-1zM978 25h1v1h-1zM982 25h1v1h-1zM961 26h5v1h-5zM968 26h4v1h-4zM975 26h1v1h-1zM977 26h1v1h-1zM983 26h1v1h-1z" fill="#c8c8c8" shape-rendering="crispEdges"/>
<path d="M999 16h7v1h-7zM1011 16h1v1h-1zM1001 17h1v1h-1zM1003 17h1v1h-1zM1011 17h1v1h-1zM1000 18h1v1h-1zM1002 18h1v1h-1zM1004 18h1v1h-1zM1009 18h6v1h-6zM1016 18h4v1h-4zM997 19h11v1h-11zM1011 19h1v1h-1zM1014 19h1v1h-1zM1016 19h1v1h-1zM1019 19h1v1h-1zM998 20h1v1h-1zM1000 20h1v1h-1zM1003 20h1v1h-1zM1005 20h1v1h-1zM1011 20h1v1h-1zM1014 20h1v1h-1zM1016 20h1v1h-1zM1019 20h1v1h-1zM997 21h1v1h-1zM999 21h1v1h-1zM1001 21h2v1h-2zM1004 21h1v1h-1zM1006 21h1v1h-1zM1011 21h1v1h-1zM1014 21h1v1h-1zM1016 21h1v1h-1zM1019 21h1v1h-1zM997 22h11v1h-11zM1011 22h1v1h-1zM1014 22h1v1h-1zM1016 22h1v1h-1zM1019 22h1v1h-1zM997 23h1v1h-1zM999 23h1v1h-1zM1005 23h1v1h-1zM1007 23h1v1h-1zM1011 23h1v1h-1zM1014 23h1v1h-1zM1016 23h1v1h-1zM1019 23h1v1h-1zM999 24h7v1h-7zM1010 24h1v1h-1zM1014 24h1v1h-1zM1016 24h1v1h-1zM1019 24h1v1h-1zM999 25h1v1h-1zM1005 25h1v1h-1zM1010 25h1v1h-1zM1012 25h1v1h-1zM1014 25h1v1h-1zM1016 25h4v1h-4zM997 26h11v1h-11zM1009 26h1v1h-1zM1013 26h1v1h-1zM1016 26h1v1h-1zM1019 26h1v1h-1z" fill="#c8c8c8" shape-rendering="crispEdges"/>
<path d="M1034 16h11v1h-11zM1048 16h1v1h-1zM1052 16h1v1h-1zM1054 16h1v1h-1zM1048 17h1v1h-1zM1052 17h1v1h-1zM1055 17h1v1h-1zM1036 18h7v1h-7zM1047 18h1v1h-1zM1052 18h4v1h-4zM1034 19h1v1h-1zM1036 19h1v1h-1zM1039 19h1v1h-1zM1042 19h1v1h-1zM1044 19h1v1h-1zM1047 19h1v1h-1zM1050 19h3v1h-3zM1034 20h1v1h-1zM1036 20h1v1h-1zM1039 20h1v1h-1zM1042 20h1v1h-1zM1044 20h1v1h-1zM1046 20h3v1h-3zM1052 20h5v1h-5zM1034 21h1v1h-1zM1036 21h7v1h-7zM1044 21h1v1h-1zM1048 21h1v1h-1zM1050 21h3v1h-3zM1034 22h1v1h-1zM1036 22h1v1h-1zM1039 22h1v1h-1zM1042 22h1v1h-1zM1044 22h1v1h-1zM1047 22h1v1h-1zM1052 22h1v1h-1zM1055 22h1v1h-1zM1034 23h1v1h-1zM1036 23h1v1h-1zM1039 23h1v1h-1zM1042 23h1v1h-1zM1044 23h1v1h-1zM1046 23h4v1h-4zM1052 23h1v1h-1zM1054 23h1v1h-1zM1034 24h1v1h-1zM1036 24h7v1h-7zM1044 24h1v1h-1zM1050 24h1v1h-1zM1053 24h1v1h-1zM1056 24h1v1h-1zM1034 25h1v1h-1zM1044 25h1v1h-1zM1048 25h2v1h-2zM1052 25h1v1h-1zM1054 25h1v1h-1zM1056 25h1v1h-1zM1034 26h11v1h-11zM1046 26h2v1h-2zM1050 26h2v1h-2zM1055 26h2v1h-2z" fill="#c8c8c8" shape-rendering="crispEdges"/>
<path d="M1074 18h5v1h-5zM1080 18h3v1h-3zM1088 18h3v1h-3zM1074 19h1v1h-1zM1082 19h1v1h-1zM1087 19h1v1h-1zM1091 19h1v1h-1zM1074 20h1v1h-1zM1082 20h1v1h-1zM1087 20h1v1h-1zM1091 20h1v1h-1zM1074 21h4v1h-4zM1082 21h1v1h-1zM1087 21h1v1h-1zM1091 21h1v1h-1zM1074 22h1v1h-1zM1082 22h1v1h-1zM1087 22h1v1h-1zM1091 22h1v1h-1zM1074 23h1v1h-1zM1082 23h1v1h-1zM1087 23h1v1h-1zM1091 23h1v1h-1zM1074 24h1v1h-1zM1082 24h1v1h-1zM1087 24h1v1h-1zM1091 24h1v1h-1zM1074 25h1v1h-1zM1080 25h5v1h-5zM1088 25h3v1h-3z" fill="#c8c8c8" shape-rendering="crispEdges"/>
<path d="M1110 16h1v1h-1zM1113 16h5v1h-5zM1121 16h1v1h-1zM1110 17h1v1h-1zM1122 17h1v1h-1zM1125 17h5v1h-5zM1108 18h5v1h-5zM1129 18h1v1h-1zM1110 19h1v1h-1zM1112 19h7v1h-7zM1129 19h1v1h-1zM1110 20h1v1h-1zM1115 20h1v1h-1zM1120 20h3v1h-3zM1129 20h1v1h-1zM1109 21h3v1h-3zM1115 21h1v1h-1zM1122 21h1v1h-1zM1125 21h5v1h-5zM1109 22h2v1h-2zM1113 22h1v1h-1zM1115 22h1v1h-1zM1117 22h1v1h-1zM1122 22h1v1h-1zM1125 22h1v1h-1zM1108 23h1v1h-1zM1110 23h1v1h-1zM1113 23h1v1h-1zM1115 23h1v1h-1zM1118 23h1v1h-1zM1122 23h1v1h-1zM1125 23h1v1h-1zM1110 24h1v1h-1zM1112 24h1v1h-1zM1115 24h1v1h-1zM1118 24h1v1h-1zM1122 24h1v1h-1zM1124 24h2v1h-2zM1130 24h1v1h-1zM1110 25h1v1h-1zM1115 25h1v1h-1zM1122 25h2v1h-2zM1125 25h1v1h-1zM1130 25h1v1h-1zM1110 26h1v1h-1zM1114 26h2v1h-2zM1122 26h1v1h-1zM1126 26h5v1h-5z" fill="#c8c8c8" shape-rendering="crispEdges"/>
<path d="M1149 16h1v1h-1zM1158 16h1v1h-1zM1162 16h1v1h-1zM1164 16h1v1h-1zM1147 17h7v1h-7zM1159 17h1v1h-1zM1162 17h1v1h-1zM1164 17h1v1h-1zM1147 18h1v1h-1zM1153 18h1v1h-1zM1159 18h1v1h-1zM1162 18h5v1h-5zM1147 19h1v1h-1zM1153 19h1v1h-1zM1161 19h1v1h-1zM1164 19h1v1h-1zM1147 20h7v1h-7zM1157 20h3v1h-3zM1161 20h7v1h-7zM1141 21h5v1h-5zM1147 21h1v1h-1zM1153 21h1v1h-1zM1159 21h1v1h-1zM1163 21h1v1h-1zM1165 21h1v1h-1zM1147 22h7v1h-7zM1159 22h1v1h-1zM1163 22h1v1h-1zM1165 22h1v1h-1zM1167 22h1v1h-1zM1147 23h1v1h-1zM1153 23h1v1h-1zM1159 23h1v1h-1zM1162 23h1v1h-1zM1165 23h1v1h-1zM1167 23h1v1h-1zM1147 24h1v1h-1zM1153 24h1v1h-1zM1159 24h1v1h-1zM1161 24h1v1h-1zM1166 24h2v1h-2zM1147 25h7v1h-7zM1158 25h1v1h-1zM1160 25h1v1h-1zM1147 26h1v1h-1zM1153 26h1v1h-1zM1157 26h1v1h-1zM1161 26h7v1h-7z" fill="#c8c8c8" shape-rendering="crispEdges"/>
<path d="M7 37h1v1h-1zM20 37h5v1h-5zM27 37h10v1h-10zM42 37h1v1h-1zM45 37h1v1h-1zM53 37h1v1h-1zM68 37h1v1h-1zM72 37h1v1h-1zM74 37h1v1h-1zM84 37h1v1h-1zM89 37h1v1h-1zM95 37h1v1h-1zM107 37h1v1h-1zM129 37h1v1h-1zM133 37h1v1h-1zM136 37h1v1h-1zM138 37h1v1h-1zM140 37h1v1h-1zM146 37h1v1h-1zM2 38h11v1h-11zM14 38h4v1h-4zM20 38h1v1h-1zM24 38h1v1h-1zM31 38h1v1h-1zM42 38h1v1h-1zM45 38h1v1h-1zM52 38h1v1h-1zM56 38h7v1h-7zM68 38h1v1h-1zM72 38h1v1h-1zM75 38h1v1h-1zM85 38h1v1h-1zM88 38h1v1h-1zM95 38h9v1h-9zM107 38h1v1h-1zM109 38h6v1h-6zM121 38h4v1h-4zM129 38h1v1h-1zM134 38h1v1h-1zM136 38h2v1h-2zM140 38h1v1h-1zM147 38h1v1h-1zM7 39h1v1h-1zM14 39h1v1h-1zM17 39h1v1h-1zM20 39h1v1h-1zM24 39h1v1h-1zM30 39h1v1h-1zM42 39h1v1h-1zM45 39h1v1h-1zM48 39h1v1h-1zM52 39h1v1h-1zM56 39h1v1h-1zM62 39h1v1h-1zM67 39h1v1h-1zM72 39h4v1h-4zM82 39h10v1h-10zM94 39h2v1h-2zM101 39h1v1h-1zM105 39h4v1h-4zM110 39h1v1h-1zM114 39h1v1h-1zM124 39h8v1h-8zM133 39h6v1h-6zM140 39h4v1h-4zM147 39h1v1h-1zM4 40h7v1h-7zM14 40h1v1h-1zM17 40h1v1h-1zM20 40h5v1h-5zM27 40h10v1h-10zM38 40h1v1h-1zM42 40h1v1h-1zM45 40h1v1h-1zM48 40h1v1h-1zM51 40h1v1h-1zM56 40h1v1h-1zM62 40h1v1h-1zM67 40h1v1h-1zM70 40h3v1h-3zM93 40h1v1h-1zM95 40h7v1h-7zM107 40h1v1h-1zM110 40h1v1h-1zM114 40h1v1h-1zM121 40h1v1h-1zM124 40h1v1h-1zM129 40h1v1h-1zM135 40h2v1h-2zM139 40h2v1h-2zM142 40h1v1h-1zM148 40h1v1h-1zM4 41h1v1h-1zM10 41h1v1h-1zM14 41h4v1h-4zM20 41h1v1h-1zM24 41h1v1h-1zM27 41h1v1h-1zM30 41h1v1h-1zM33 41h1v1h-1zM36 41h1v1h-1zM39 41h1v1h-1zM42 41h1v1h-1zM45 41h1v1h-1zM47 41h1v1h-1zM51 41h1v1h-1zM56 41h1v1h-1zM62 41h1v1h-1zM66 41h3v1h-3zM72 41h5v1h-5zM83 41h4v1h-4zM88 41h1v1h-1zM90 41h1v1h-1zM95 41h1v1h-1zM101 41h1v1h-1zM107 41h1v1h-1zM110 41h1v1h-1zM114 41h1v1h-1zM122 41h1v1h-1zM124 41h1v1h-1zM129 41h1v1h-1zM134 41h1v1h-1zM136 41h2v1h-2zM140 41h1v1h-1zM142 41h1v1h-1zM148 41h1v1h-1zM4 42h1v1h-1zM10 42h1v1h-1zM14 42h1v1h-1zM17 42h1v1h-1zM20 42h1v1h-1zM24 42h1v1h-1zM27 42h1v1h-1zM30 42h4v1h-4zM36 42h1v1h-1zM40 42h1v1h-1zM42 42h1v1h-1zM45 42h1v1h-1zM47 42h1v1h-1zM51 42h1v1h-1zM56 42h7v1h-7zM68 42h1v1h-1zM70 42h3v1h-3zM83 42h1v1h-1zM86 42h1v1h-1zM88 42h1v1h-1zM90 42h1v1h-1zM95 42h7v1h-7zM106 42h3v1h-3zM111 42h1v1h-1zM113 42h1v1h-1zM123 42h1v1h-1zM126 42h1v1h-1zM129 42h1v1h-1zM133 42h1v1h-1zM136 42h1v1h-1zM138 42h1v1h-1zM140 42h1v1h-1zM142 42h1v1h-1zM148 42h1v1h-1zM4 43h7v1h-7zM14 43h1v1h-1zM17 43h1v1h-1zM20 43h5v1h-5zM27 43h1v1h-1zM30 43h1v1h-1zM33 43h1v1h-1zM36 43h1v1h-1zM40 43h1v1h-1zM42 43h1v1h-1zM45 43h2v1h-2zM51 43h1v1h-1zM56 43h1v1h-1zM62 43h1v1h-1zM67 43h1v1h-1zM72 43h1v1h-1zM75 43h1v1h-1zM83 43h4v1h-4zM88 43h1v1h-1zM90 43h1v1h-1zM96 43h1v1h-1zM106 43h2v1h-2zM109 43h1v1h-1zM111 43h1v1h-1zM113 43h1v1h-1zM123 43h1v1h-1zM127 43h1v1h-1zM129 43h1v1h-1zM133 43h6v1h-6zM140 43h1v1h-1zM142 43h1v1h-1zM148 43h1v1h-1zM6 44h1v1h-1zM8 44h1v1h-1zM14 44h4v1h-4zM20 44h1v1h-1zM24 44h1v1h-1zM27 44h1v1h-1zM30 44h4v1h-4zM36 44h1v1h-1zM42 44h1v1h-1zM45 44h1v1h-1zM51 44h1v1h-1zM56 44h1v1h-1zM62 44h1v1h-1zM66 44h4v1h-4zM72 44h1v1h-1zM74 44h1v1h-1zM83 44h1v1h-1zM86 44h1v1h-1zM88 44h1v1h-1zM90 44h1v1h-1zM95 44h7v1h-7zM105 44h1v1h-1zM107 44h1v1h-1zM112 44h1v1h-1zM122 44h1v1h-1zM124 44h1v1h-1zM129 44h1v1h-1zM135 44h1v1h-1zM137 44h1v1h-1zM140 44h1v1h-1zM142 44h1v1h-1zM148 44h1v1h-1zM5 45h1v1h-1zM8 45h1v1h-1zM12 45h1v1h-1zM19 45h1v1h-1zM24 45h1v1h-1zM27 45h1v1h-1zM30 45h1v1h-1zM33 45h1v1h-1zM36 45h1v1h-1zM42 45h1v1h-1zM45 45h1v1h-1zM52 45h1v1h-1zM56 45h1v1h-1zM62 45h1v1h-1zM70 45h1v1h-1zM73 45h1v1h-1zM76 45h1v1h-1zM80 45h1v1h-1zM83 45h4v1h-4zM88 45h1v1h-1zM90 45h1v1h-1zM93 45h2v1h-2zM97 45h1v1h-1zM100 45h1v1h-1zM107 45h1v1h-1zM111 45h1v1h-1zM113 45h1v1h-1zM119 45h1v1h-1zM122 45h1v1h-1zM124 45h1v1h-1zM129 45h1v1h-1zM134 45h2v1h-2zM137 45h1v1h-1zM141 45h1v1h-1zM147 45h1v1h-1zM4 46h1v1h-1zM8 46h1v1h-1zM12 46h1v1h-1zM18 46h1v1h-1zM22 46h1v1h-1zM24 46h1v1h-1zM27 46h10v1h-10zM42 46h1v1h-1zM45 46h1v1h-1zM52 46h1v1h-1zM56 46h7v1h-7zM68 46h2v1h-2zM72 46h1v1h-1zM74 46h1v1h-1zM76 46h1v1h-1zM80 46h1v1h-1zM83 46h1v1h-1zM86 46h1v1h-1zM90 46h1v1h-1zM98 46h2v1h-2zM107 46h1v1h-1zM110 46h1v1h-1zM114 46h1v1h-1zM119 46h1v1h-1zM121 46h1v1h-1zM127 46h1v1h-1zM129 46h1v1h-1zM136 46h1v1h-1zM140 46h1v1h-1zM142 46h1v1h-1zM147 46h1v1h-1zM2 47h2v1h-2zM9 47h4v1h-4zM16 47h2v1h-2zM23 47h1v1h-1zM27 47h1v1h-1zM36 47h1v1h-1zM38 47h11v1h-11zM53 47h1v1h-1zM56 47h1v1h-1zM62 47h1v1h-1zM66 47h2v1h-2zM70 47h2v1h-2zM75 47h2v1h-2zM83 47h1v1h-1zM85 47h2v1h-2zM88 47h3v1h-3zM93 47h5v1h-5zM100 47h4v1h-4zM107 47h1v1h-1zM109 47h1v1h-1zM115 47h1v1h-1zM128 47h1v1h-1zM133 47h3v1h-3zM137 47h3v1h-3zM143 47h1v1h-1zM146 47h1v1h-1z" fill="#c8c8c8" shape-rendering="crispEdges"/>
<text x="151.5" y="47" font-family="Liberation Sans, sans-serif" font-size="12" fill="#ffffff" text-anchor="start" textLength="59" lengthAdjust="spacingAndGlyphs">MA5: 19.44</text>
<text x="216.5" y="47" font-family="Liberation Sans, sans-serif" font-size="12" fill="#ffff00" text-anchor="start" textLength="65" lengthAdjust="spacingAndGlyphs">MA10: 19.27</text>
<text x="289" y="47" font-family="Liberation Sans, sans-serif" font-size="12" fill="#ff00ff" text-anchor="start" textLength="65" lengthAdjust="spacingAndGlyphs">MA20: 19.44</text>
<text x="361" y="47" font-family="Liberation Sans, sans-serif" font-size="12" fill="#00e600" text-anchor="start" textLength="64" lengthAdjust="spacingAndGlyphs">MA60: 16.71</text>
<text x="1172" y="137" font-family="Liberation Sans, sans-serif" font-size="12" fill="#808080" text-anchor="end" >19.40</text>
<text x="1172" y="148" font-family="Liberation Sans, sans-serif" font-size="12" fill="#808080" text-anchor="end" >80.9%</text>
<text x="1172" y="221" font-family="Liberation Sans, sans-serif" font-size="12" fill="#808080" text-anchor="end" >17.96</text>
<text x="1172" y="232" font-family="Liberation Sans, sans-serif" font-size="12" fill="#808080" text-anchor="end" >61.8%</text>
<text x="1172" y="336" font-family="Liberation Sans, sans-serif" font-size="12" fill="#808080" text-anchor="end" >16.19</text>
<text x="1172" y="347" font-family="Liberation Sans, sans-serif" font-size="12" fill="#808080" text-anchor="end" >38.2%</text>
<text x="1172" y="438" font-family="Liberation Sans, sans-serif" font-size="12" fill="#808080" text-anchor="end" >14.76</text>
<text x="1172" y="449" font-family="Liberation Sans, sans-serif" font-size="12" fill="#808080" text-anchor="end" >19.1%</text>
<text x="1172" y="551" font-family="Liberation Sans, sans-serif" font-size="12" fill="#808080" text-anchor="end" >13.33</text>
<rect x="1125" y="267" width="50" height="17" fill="#000080"/>
<rect x="1125" y="267" width="50" height="1" fill="#505050"/><rect x="1125" y="283" width="50" height="1" fill="#505050"/>
<text x="1126" y="279" font-family="Liberation Sans, sans-serif" font-size="12" fill="#e0e0d8" text-anchor="start" >16.93</text>
<text x="348" y="65" font-family="Liberation Sans, sans-serif" font-size="12" fill="#c8c8c8" text-anchor="start" >20.83</text>
<path d="M336.5,55.5 L345,58 M336.5,55.5 L338.5,53 M336.5,55.5 L337.5,58.5" stroke="#c8c8c8" stroke-width="1" fill="none"/>
<text x="149" y="552" font-family="Liberation Sans, sans-serif" font-size="12" fill="#c8c8c8" text-anchor="start" >13.33</text>
<path d="M136.5,546.5 L147,546.5 M136.5,546.5 L139,544 M136.5,546.5 L139,549" stroke="#c8c8c8" stroke-width="1" fill="none"/>
<path d="M7 563h6v1h-6zM20 563h1v1h-1zM2 564h5v1h-5zM9 564h1v1h-1zM16 564h9v1h-9zM4 565h1v1h-1zM7 565h6v1h-6zM16 565h1v1h-1zM4 566h1v1h-1zM7 566h1v1h-1zM12 566h1v1h-1zM16 566h1v1h-1zM18 566h6v1h-6zM4 567h1v1h-1zM7 567h1v1h-1zM9 567h1v1h-1zM12 567h1v1h-1zM16 567h1v1h-1zM18 567h1v1h-1zM21 567h1v1h-1zM4 568h1v1h-1zM7 568h1v1h-1zM9 568h1v1h-1zM12 568h1v1h-1zM16 568h1v1h-1zM18 568h7v1h-7zM4 569h1v1h-1zM7 569h1v1h-1zM9 569h1v1h-1zM12 569h1v1h-1zM16 569h1v1h-1zM18 569h1v1h-1zM21 569h1v1h-1zM4 570h1v1h-1zM7 570h1v1h-1zM9 570h1v1h-1zM12 570h1v1h-1zM16 570h1v1h-1zM18 570h1v1h-1zM22 570h1v1h-1zM4 571h1v1h-1zM9 571h2v1h-2zM16 571h1v1h-1zM18 571h1v1h-1zM20 571h1v1h-1zM22 571h1v1h-1zM24 571h1v1h-1zM3 572h2v1h-2zM8 572h1v1h-1zM11 572h1v1h-1zM15 572h1v1h-1zM18 572h2v1h-2zM21 572h1v1h-1zM23 572h2v1h-2zM6 573h2v1h-2zM12 573h1v1h-1zM14 573h1v1h-1zM18 573h1v1h-1zM21 573h1v1h-1zM24 573h1v1h-1z" fill="#c8c8c8" shape-rendering="crispEdges"/>
<text x="26" y="572" font-family="Liberation Sans, sans-serif" font-size="12" fill="#c8c8c8" text-anchor="start" textLength="81" lengthAdjust="spacingAndGlyphs">MACD(12,26,9)</text>
<text x="113" y="572" font-family="Liberation Sans, sans-serif" font-size="12" fill="#ffffff" text-anchor="start" textLength="55" lengthAdjust="spacingAndGlyphs">DIF: 53.59</text>
<text x="174.5" y="572" font-family="Liberation Sans, sans-serif" font-size="12" fill="#ffff00" text-anchor="start" textLength="59" lengthAdjust="spacingAndGlyphs">DEA: 77.43</text>
<text x="240.5" y="572" font-family="Liberation Sans, sans-serif" font-size="12" fill="#ff00ff" text-anchor="start" textLength="74" lengthAdjust="spacingAndGlyphs">MACD: -47.68</text>
<text x="1172" y="585" font-family="Liberation Sans, sans-serif" font-size="12" fill="#808080" text-anchor="end" >150.0</text>
<text x="1172" y="615" font-family="Liberation Sans, sans-serif" font-size="12" fill="#808080" text-anchor="end" >100.0</text>
<text x="1172" y="645" font-family="Liberation Sans, sans-serif" font-size="12" fill="#808080" text-anchor="end" >50.00</text>
<text x="1172" y="675" font-family="Liberation Sans, sans-serif" font-size="12" fill="#808080" text-anchor="end" >0.00</text>
<text x="1172" y="706" font-family="Liberation Sans, sans-serif" font-size="12" fill="#808080" text-anchor="end" >-50.00</text>
<path d="M7 739h3v1h-3zM6 740h1v1h-1zM10 740h1v1h-1zM10 741h1v1h-1zM10 742h1v1h-1zM9 743h1v1h-1zM8 744h1v1h-1zM7 745h1v1h-1zM6 746h5v1h-5zM13 739h3v1h-3zM12 740h1v1h-1zM16 740h1v1h-1zM12 741h1v1h-1zM16 741h1v1h-1zM12 742h1v1h-1zM16 742h1v1h-1zM12 743h1v1h-1zM16 743h1v1h-1zM12 744h1v1h-1zM16 744h1v1h-1zM12 745h1v1h-1zM16 745h1v1h-1zM13 746h3v1h-3zM18 739h3v1h-3zM20 740h1v1h-1zM20 741h1v1h-1zM20 742h1v1h-1zM20 743h1v1h-1zM20 744h1v1h-1zM20 745h1v1h-1zM18 746h5v1h-5zM25 739h3v1h-3zM24 740h1v1h-1zM24 741h1v1h-1zM24 742h4v1h-4zM24 743h1v1h-1zM28 743h1v1h-1zM24 744h1v1h-1zM28 744h1v1h-1zM24 745h1v1h-1zM28 745h1v1h-1zM25 746h3v1h-3zM32 737h1v1h-1zM32 738h9v1h-9zM31 739h1v1h-1zM36 739h1v1h-1zM30 740h1v1h-1zM36 740h1v1h-1zM32 741h8v1h-8zM32 742h1v1h-1zM36 742h1v1h-1zM32 743h1v1h-1zM36 743h1v1h-1zM30 744h11v1h-11zM36 745h1v1h-1zM36 746h1v1h-1zM36 747h1v1h-1z" fill="#808080" shape-rendering="crispEdges"/>
<text x="86" y="747" font-family="Liberation Sans, sans-serif" font-size="12" fill="#808080" text-anchor="start" >3</text>
<text x="316" y="747" font-family="Liberation Sans, sans-serif" font-size="12" fill="#808080" text-anchor="start" >4</text>
<text x="722" y="747" font-family="Liberation Sans, sans-serif" font-size="12" fill="#808080" text-anchor="start" >6</text>
<text x="922" y="747" font-family="Liberation Sans, sans-serif" font-size="12" fill="#808080" text-anchor="start" >7</text>
<rect x="490" y="735" width="77" height="15" fill="#000080"/>
<path d="M492 740h3v1h-3zM491 741h1v1h-1zM495 741h1v1h-1zM495 742h1v1h-1zM495 743h1v1h-1zM494 744h1v1h-1zM493 745h1v1h-1zM492 746h1v1h-1zM491 747h5v1h-5zM498 740h3v1h-3zM497 741h1v1h-1zM501 741h1v1h-1zM497 742h1v1h-1zM501 742h1v1h-1zM497 743h1v1h-1zM501 743h1v1h-1zM497 744h1v1h-1zM501 744h1v1h-1zM497 745h1v1h-1zM501 745h1v1h-1zM497 746h1v1h-1zM501 746h1v1h-1zM498 747h3v1h-3zM503 740h3v1h-3zM505 741h1v1h-1zM505 742h1v1h-1zM505 743h1v1h-1zM505 744h1v1h-1zM505 745h1v1h-1zM505 746h1v1h-1zM503 747h5v1h-5zM510 740h3v1h-3zM509 741h1v1h-1zM509 742h1v1h-1zM509 743h4v1h-4zM509 744h1v1h-1zM513 744h1v1h-1zM509 745h1v1h-1zM513 745h1v1h-1zM509 746h1v1h-1zM513 746h1v1h-1zM510 747h3v1h-3zM518 737h1v1h-1zM518 738h1v1h-1zM518 739h1v1h-1zM517 740h1v1h-1zM517 741h1v1h-1zM517 742h1v1h-1zM516 743h1v1h-1zM516 744h1v1h-1zM516 745h1v1h-1zM515 746h1v1h-1zM515 747h1v1h-1zM515 748h1v1h-1zM522 740h3v1h-3zM521 741h1v1h-1zM525 741h1v1h-1zM521 742h1v1h-1zM525 742h1v1h-1zM521 743h1v1h-1zM525 743h1v1h-1zM521 744h1v1h-1zM525 744h1v1h-1zM521 745h1v1h-1zM525 745h1v1h-1zM521 746h1v1h-1zM525 746h1v1h-1zM522 747h3v1h-3zM530 740h2v1h-2zM529 741h1v1h-1zM531 741h1v1h-1zM528 742h1v1h-1zM531 742h1v1h-1zM528 743h1v1h-1zM531 743h1v1h-1zM527 744h1v1h-1zM531 744h1v1h-1zM527 745h6v1h-6zM531 746h1v1h-1zM531 747h1v1h-1zM536 737h1v1h-1zM536 738h1v1h-1zM536 739h1v1h-1zM535 740h1v1h-1zM535 741h1v1h-1zM535 742h1v1h-1zM534 743h1v1h-1zM534 744h1v1h-1zM534 745h1v1h-1zM533 746h1v1h-1zM533 747h1v1h-1zM533 748h1v1h-1zM540 740h3v1h-3zM539 741h1v1h-1zM543 741h1v1h-1zM543 742h1v1h-1zM543 743h1v1h-1zM542 744h1v1h-1zM541 745h1v1h-1zM540 746h1v1h-1zM539 747h5v1h-5zM546 740h3v1h-3zM545 741h1v1h-1zM549 741h1v1h-1zM545 742h1v1h-1zM549 742h1v1h-1zM546 743h3v1h-3zM545 744h1v1h-1zM549 744h1v1h-1zM545 745h1v1h-1zM549 745h1v1h-1zM545 746h1v1h-1zM549 746h1v1h-1zM546 747h3v1h-3zM554 737h1v1h-1zM554 738h1v1h-1zM554 739h1v1h-1zM553 740h1v1h-1zM553 741h1v1h-1zM553 742h1v1h-1zM552 743h1v1h-1zM552 744h1v1h-1zM552 745h1v1h-1zM551 746h1v1h-1zM551 747h1v1h-1zM551 748h1v1h-1zM558 739h9v1h-9zM558 740h1v1h-1zM561 740h1v1h-1zM563 740h1v1h-1zM566 740h1v1h-1zM558 741h1v1h-1zM561 741h1v1h-1zM563 741h1v1h-1zM566 741h1v1h-1zM558 742h1v1h-1zM561 742h1v1h-1zM563 742h1v1h-1zM566 742h1v1h-1zM558 743h1v1h-1zM561 743h1v1h-1zM563 743h1v1h-1zM566 743h1v1h-1zM558 744h1v1h-1zM560 744h1v1h-1zM563 744h4v1h-4zM558 745h2v1h-2zM566 745h1v1h-1zM558 746h1v1h-1zM566 746h1v1h-1zM558 747h9v1h-9zM558 748h1v1h-1zM566 748h1v1h-1z" fill="#e0e0e0" shape-rendering="crispEdges"/>
<polygon points="998,719 1003,721 1003,745 998,745" fill="#dceaf2"/>
<polygon points="1012,688 1025,690 1025,745 1012,745" fill="#9cbdd0"/>
<polygon points="1031,699 1043,701 1043,746 1031,746" fill="#e01e24"/>
<g shape-rendering="geometricPrecision"><rect x="1048.5" y="698.4" width="5.1" height="28.1" fill="#22a0ea"/><rect x="1055.2" y="698.4" width="4.8" height="28.1" fill="#22a0ea"/><rect x="1053.6" y="698.4" width="1.6" height="1.6" fill="#22a0ea"/><rect x="1053.6" y="707" width="1.6" height="1.4" fill="#22a0ea"/><rect x="1053.6" y="714.4" width="1.6" height="1.4" fill="#22a0ea"/><polygon points="1048.5,722 1049,726.5 1047.5,726.5" fill="#22a0ea"/><polygon points="1061,698.4 1064,698.4 1063.6,706 1061,709.5" fill="#22a0ea"/><rect x="1063" y="698.4" width="10.7" height="1.4" fill="#22a0ea"/><rect x="1069.3" y="698.4" width="4.4" height="8.1" fill="#22a0ea"/><polygon points="1072,705 1077,707.8 1072,707.8" fill="#22a0ea"/><rect x="1061" y="710" width="13.8" height="1.3" fill="#22a0ea"/><polygon points="1071.2,711.3 1074.8,711.3 1064.8,726.5 1061,726.5" fill="#22a0ea"/><polygon points="1063.5,714.2 1067.2,714.2 1077.2,726.5 1073.2,726.5" fill="#22a0ea"/><rect x="1079.2" y="699" width="28.6" height="1.3" fill="#22a0ea"/><rect x="1080.3" y="701.2" width="27.5" height="9.3" fill="#22a0ea"/><rect x="1086" y="702.4" width="6" height="2.6" fill="#000"/><rect x="1094.6" y="702.4" width="5.5" height="2.6" fill="#000"/><rect x="1086" y="706.7" width="6" height="2.2" fill="#000"/><rect x="1094.6" y="706.7" width="5.5" height="2.2" fill="#000"/><rect x="1084" y="704" width="1.4" height="6.5" fill="#000"/><rect x="1081.1" y="713" width="25.7" height="1.2" fill="#22a0ea"/><rect x="1079.2" y="716.9" width="28.6" height="1.4" fill="#22a0ea"/><rect x="1091.3" y="718.3" width="4.4" height="8.2" fill="#22a0ea"/><rect x="1088" y="724.9" width="3.3" height="1.6" fill="#22a0ea"/><polygon points="1085,720 1089,720 1083,726 1079,726" fill="#22a0ea"/><polygon points="1099,720 1102.5,720 1108,726 1103.5,726" fill="#22a0ea"/><rect x="1123.5" y="697.7" width="4.7" height="6.8" fill="#22a0ea"/><rect x="1110.3" y="704.5" width="29.0" height="2.0" fill="#22a0ea"/><polygon points="1120,710.7 1125.7,710.7 1117.7,725.8 1110.3,725.8" fill="#22a0ea"/><polygon points="1132.5,710.7 1135.9,710.7 1139.5,725.8 1134.6,725.8" fill="#22a0ea"/><rect x="1154.5" y="697.7" width="4.7" height="6.8" fill="#22a0ea"/><rect x="1141.3" y="704.5" width="29.0" height="2.0" fill="#22a0ea"/><polygon points="1151,710.7 1156.7,710.7 1148.7,725.8 1141.3,725.8" fill="#22a0ea"/><polygon points="1163.5,710.7 1166.9,710.7 1170.5,725.8 1165.6,725.8" fill="#22a0ea"/></g>
<text x="1046" y="742" font-family="Liberation Sans, sans-serif" font-size="12.5" fill="#aaaaaa" text-anchor="start" textLength="54" lengthAdjust="spacingAndGlyphs">GP66.CN</text>
<path d="M1102 733h4v1h-4zM1107 733h4v1h-4zM1113 733h11v1h-11zM1131 733h1v1h-1zM1139 733h1v1h-1zM1144 733h2v1h-2zM1151 733h1v1h-1zM1156 733h1v1h-1zM1162 733h1v1h-1zM1168 733h1v1h-1zM1102 734h1v1h-1zM1105 734h1v1h-1zM1107 734h1v1h-1zM1110 734h1v1h-1zM1117 734h1v1h-1zM1119 734h1v1h-1zM1126 734h10v1h-10zM1139 734h1v1h-1zM1144 734h1v1h-1zM1146 734h1v1h-1zM1151 734h1v1h-1zM1156 734h1v1h-1zM1163 734h1v1h-1zM1168 734h1v1h-1zM1102 735h1v1h-1zM1105 735h1v1h-1zM1107 735h1v1h-1zM1110 735h1v1h-1zM1114 735h9v1h-9zM1126 735h1v1h-1zM1128 735h1v1h-1zM1135 735h1v1h-1zM1139 735h4v1h-4zM1144 735h1v1h-1zM1149 735h11v1h-11zM1166 735h5v1h-5zM1102 736h5v1h-5zM1110 736h2v1h-2zM1114 736h1v1h-1zM1117 736h1v1h-1zM1119 736h1v1h-1zM1122 736h1v1h-1zM1125 736h1v1h-1zM1129 736h1v1h-1zM1131 736h1v1h-1zM1134 736h1v1h-1zM1139 736h1v1h-1zM1144 736h1v1h-1zM1146 736h2v1h-2zM1151 736h1v1h-1zM1156 736h1v1h-1zM1161 736h1v1h-1zM1168 736h1v1h-1zM1102 737h1v1h-1zM1105 737h1v1h-1zM1114 737h9v1h-9zM1127 737h1v1h-1zM1131 737h1v1h-1zM1139 737h1v1h-1zM1142 737h4v1h-4zM1151 737h1v1h-1zM1153 737h6v1h-6zM1162 737h1v1h-1zM1168 737h1v1h-1zM1102 738h1v1h-1zM1105 738h1v1h-1zM1107 738h5v1h-5zM1128 738h1v1h-1zM1131 738h1v1h-1zM1137 738h5v1h-5zM1144 738h1v1h-1zM1147 738h1v1h-1zM1151 738h2v1h-2zM1154 738h1v1h-1zM1158 738h1v1h-1zM1165 738h7v1h-7zM1102 739h4v1h-4zM1107 739h1v1h-1zM1111 739h1v1h-1zM1115 739h7v1h-7zM1126 739h10v1h-10zM1137 739h1v1h-1zM1141 739h1v1h-1zM1144 739h1v1h-1zM1146 739h1v1h-1zM1150 739h2v1h-2zM1154 739h1v1h-1zM1158 739h1v1h-1zM1163 739h1v1h-1zM1168 739h1v1h-1zM1102 740h1v1h-1zM1105 740h1v1h-1zM1108 740h1v1h-1zM1110 740h1v1h-1zM1131 740h1v1h-1zM1137 740h1v1h-1zM1141 740h1v1h-1zM1144 740h2v1h-2zM1149 740h1v1h-1zM1151 740h1v1h-1zM1155 740h1v1h-1zM1157 740h1v1h-1zM1161 740h2v1h-2zM1167 740h1v1h-1zM1102 741h1v1h-1zM1105 741h1v1h-1zM1109 741h1v1h-1zM1113 741h11v1h-11zM1130 741h1v1h-1zM1132 741h1v1h-1zM1137 741h1v1h-1zM1141 741h1v1h-1zM1144 741h1v1h-1zM1147 741h1v1h-1zM1151 741h1v1h-1zM1156 741h1v1h-1zM1162 741h1v1h-1zM1166 741h1v1h-1zM1170 741h1v1h-1zM1101 742h1v1h-1zM1105 742h1v1h-1zM1108 742h1v1h-1zM1110 742h1v1h-1zM1115 742h1v1h-1zM1118 742h1v1h-1zM1121 742h1v1h-1zM1129 742h1v1h-1zM1133 742h1v1h-1zM1137 742h7v1h-7zM1145 742h1v1h-1zM1147 742h1v1h-1zM1151 742h1v1h-1zM1155 742h1v1h-1zM1157 742h1v1h-1zM1162 742h1v1h-1zM1165 742h5v1h-5zM1171 742h1v1h-1zM1101 743h1v1h-1zM1104 743h4v1h-4zM1111 743h1v1h-1zM1113 743h2v1h-2zM1117 743h2v1h-2zM1122 743h2v1h-2zM1126 743h3v1h-3zM1134 743h2v1h-2zM1137 743h1v1h-1zM1141 743h1v1h-1zM1146 743h2v1h-2zM1149 743h3v1h-3zM1153 743h2v1h-2zM1158 743h2v1h-2zM1162 743h1v1h-1zM1166 743h1v1h-1zM1171 743h1v1h-1z" fill="#aaaaaa" shape-rendering="crispEdges"/>
<path d="M1150 735h1v1h-1zM1154 735h1v1h-1zM1156 735h1v1h-1zM1138 736h7v1h-7zM1150 736h1v1h-1zM1154 736h1v1h-1zM1157 736h1v1h-1zM1138 737h1v1h-1zM1144 737h1v1h-1zM1149 737h1v1h-1zM1154 737h4v1h-4zM1138 738h1v1h-1zM1144 738h1v1h-1zM1149 738h1v1h-1zM1152 738h3v1h-3zM1138 739h1v1h-1zM1144 739h1v1h-1zM1148 739h3v1h-3zM1154 739h5v1h-5zM1138 740h7v1h-7zM1150 740h1v1h-1zM1152 740h3v1h-3zM1138 741h1v1h-1zM1144 741h1v1h-1zM1149 741h1v1h-1zM1154 741h1v1h-1zM1157 741h1v1h-1zM1138 742h1v1h-1zM1144 742h1v1h-1zM1148 742h4v1h-4zM1154 742h1v1h-1zM1156 742h1v1h-1zM1138 743h1v1h-1zM1144 743h1v1h-1zM1152 743h1v1h-1zM1155 743h1v1h-1zM1158 743h1v1h-1zM1138 744h7v1h-7zM1150 744h2v1h-2zM1154 744h1v1h-1zM1156 744h1v1h-1zM1158 744h1v1h-1zM1138 745h1v1h-1zM1144 745h1v1h-1zM1148 745h2v1h-2zM1152 745h2v1h-2zM1157 745h2v1h-2z" fill="#e0e0e0" shape-rendering="crispEdges"/>
<rect x="1124" y="560" width="1" height="175" fill="#363636"/><rect x="1175" y="560" width="1" height="175" fill="#363636"/>
<text x="1172" y="706" font-family="Liberation Sans, sans-serif" font-size="12" fill="#808080" text-anchor="end" >-50.00</text>
<polygon points="1103.5,37.5 1108,42 1103.5,46.5 1099,42" fill="none" stroke="#4a4a4a" stroke-dasharray="1,0.5"/>
<rect x="1112.5" y="37.5" width="9" height="9" fill="none" stroke="#4a4a4a"/>
<line x1="1118.5" y1="38" x2="1118.5" y2="47" stroke="#4a4a4a"/>
<g fill="#ff0000" shape-rendering="crispEdges"><rect x="491" y="548" width="1" height="1"/><rect x="490" y="549" width="3" height="1"/><rect x="490" y="550" width="4" height="1"/><rect x="490" y="552" width="4" height="1"/><rect x="494" y="553" width="1" height="1"/><rect x="490" y="553" width="1" height="2"/><rect x="490" y="555" width="4" height="1"/><rect x="494" y="556" width="1" height="2"/><rect x="490" y="558" width="4" height="1"/></g>
</svg>
</body></html>
